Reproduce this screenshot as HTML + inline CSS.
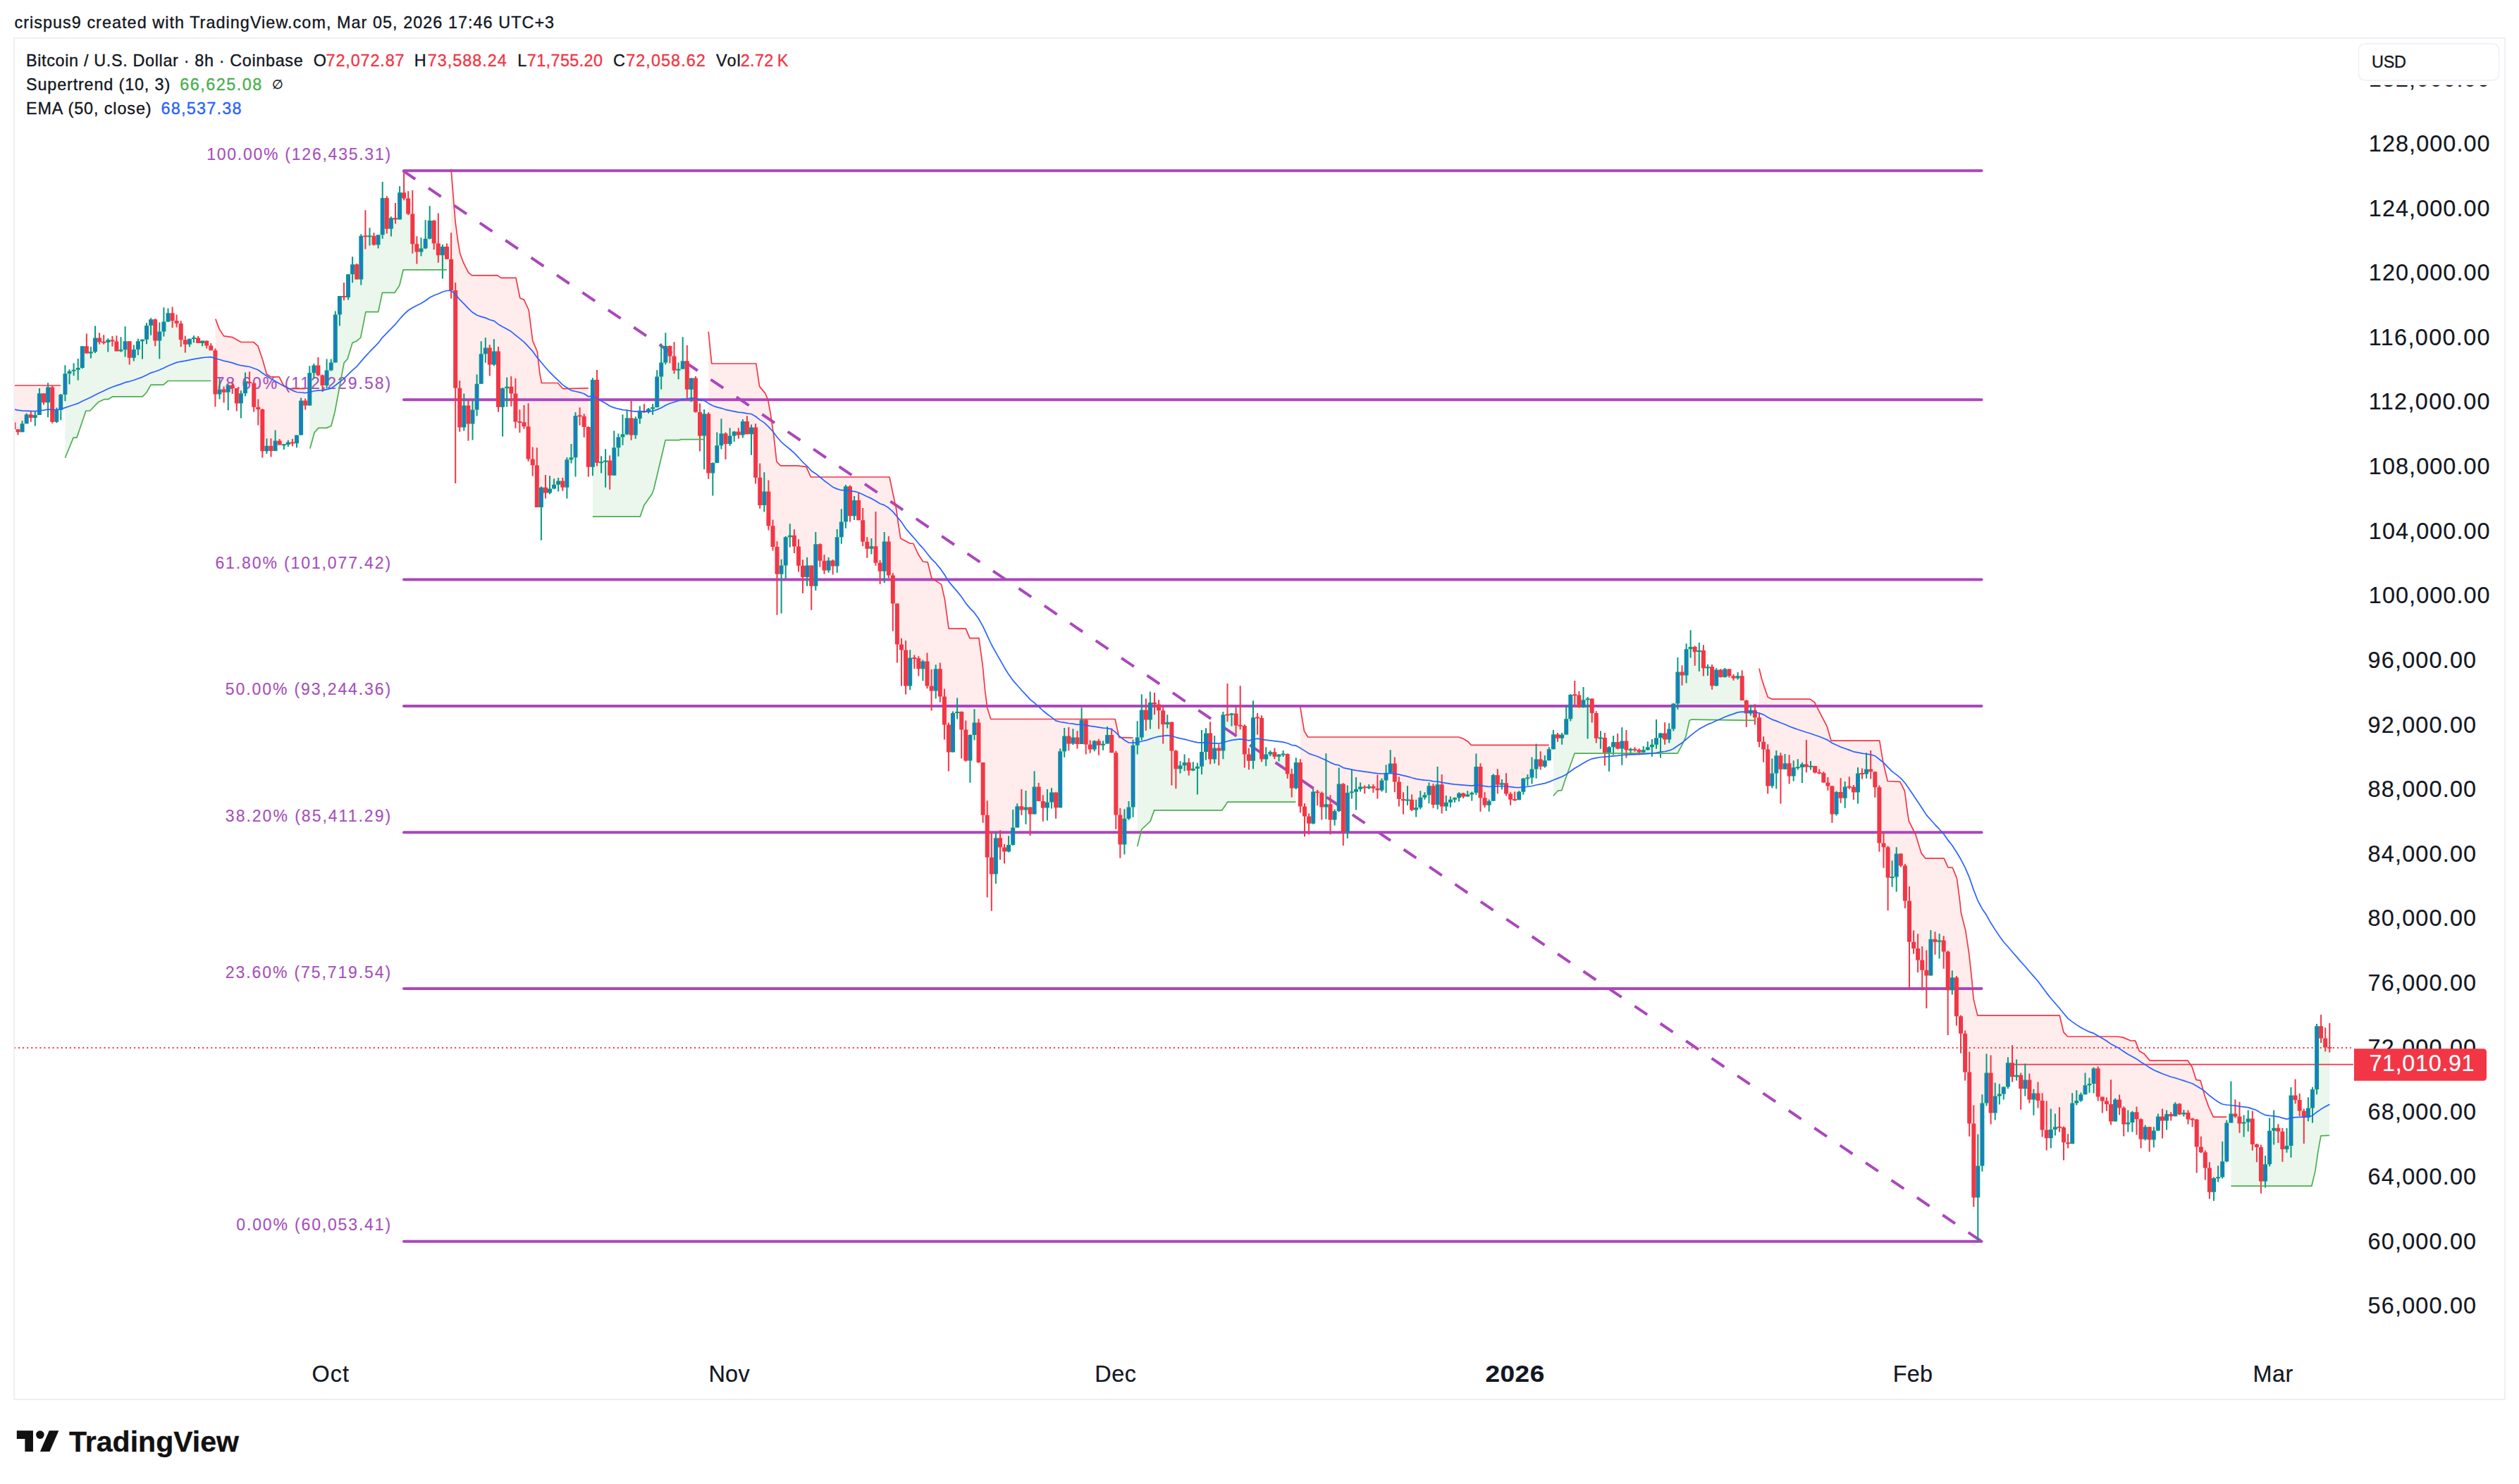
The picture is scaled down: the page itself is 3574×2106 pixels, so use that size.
<!DOCTYPE html>
<html><head><meta charset="utf-8"><title>BTCUSD chart</title>
<style>
html,body{margin:0;padding:0;background:#fff;}
body{width:3574px;height:2106px;position:relative;overflow:hidden;font-family:"Liberation Sans",sans-serif;}
svg text{font-family:"Liberation Sans",sans-serif;fill:#131722;stroke:#131722;stroke-width:0.35px;}
.lg{font-size:23.4px;}
.usd{font-size:23.4px;}
.es{font-size:17.5px;}
.fib{font-size:23px;fill:#A64FBA;stroke:#A64FBA;stroke-width:0.15px;}
.ax{font-size:32.4px;stroke-width:0.2px;}
.axb{font-size:32.4px;font-weight:bold;stroke-width:0.2px;}
.tv{font-size:41px;font-weight:bold;fill:#111;stroke:#111;}
</style></head><body>
<svg width="3574" height="2106" viewBox="0 0 3574 2106" style="position:absolute;left:0;top:0">
<defs><clipPath id="cp"><rect x="21" y="55" width="3318" height="1880"/></clipPath></defs>
<g clip-path="url(#cp)">
<polygon points="19.4,547.0 20.0,547.0 86.3,547.0 86.3,574.3 80.3,589.8 74.2,574.0 68.1,564.0 62.0,565.6 55.9,571.8 49.8,592.7 43.8,590.8 37.7,594.3 31.6,606.2 25.5,612.3 19.4,604.4" fill="rgba(255,82,82,0.11)"/>
<polygon points="305.4,453.2 306.0,453.2 311.1,466.9 317.6,476.9 329.7,478.6 341.9,485.5 359.7,485.5 366.1,491.2 372.6,510.6 378.3,530.8 383.9,534.8 396.1,534.8 402.5,547.0 404.9,548.4 408.2,550.2 409.7,551.6 414.7,551.3 433.2,551.6 433.2,572.8 427.1,592.1 421.0,624.9 414.9,628.2 408.8,629.2 402.8,632.7 396.7,627.9 390.6,629.1 384.5,635.8 378.4,634.8 372.3,612.7 366.3,582.2 360.2,562.2 354.1,539.3 348.0,547.8 341.9,569.6 335.8,564.4 329.7,549.7 323.7,557.8 317.6,557.4 311.5,553.8 305.4,532.1" fill="rgba(255,82,82,0.11)"/>
<polygon points="640.1,240.1 642.6,272.1 646.0,314.2 649.3,339.5 652.7,359.7 657.7,373.2 664.5,386.7 669.5,390.9 700.0,390.9 705.5,390.6 711.0,394.4 732.0,394.4 737.8,423.0 743.5,425.4 750.2,440.0 755.8,483.7 762.3,499.0 765.9,530.6 768.5,543.5 791.4,543.5 797.8,550.8 800.0,551.6 834.2,550.8 834.8,550.8 834.8,637.6 828.7,601.2 822.6,590.7 816.5,625.2 810.5,647.3 804.4,675.1 798.3,687.3 792.2,686.4 786.1,688.7 780.0,692.4 774.0,693.2 767.9,717.2 761.8,683.9 755.7,655.5 749.6,621.0 743.5,597.1 737.4,598.2 731.4,575.5 725.3,554.5 719.2,553.2 713.1,574.6 707.0,538.3 700.9,504.3 694.8,508.5 688.8,497.4 682.7,519.0 676.6,562.0 670.5,594.0 664.4,592.4 658.3,588.0 652.2,577.6 646.2,512.4 640.1,383.4" fill="rgba(255,82,82,0.11)"/>
<polygon points="1005.2,470.7 1009.7,516.0 1072.8,516.0 1077.6,548.4 1085.7,558.1 1089.7,567.8 1093.0,585.6 1097.8,617.9 1101.9,655.1 1107.5,660.8 1131.0,660.8 1143.9,662.4 1150.4,677.0 1180.0,677.0 1262.0,677.0 1266.8,700.0 1271.7,722.6 1274.1,740.4 1277.7,763.9 1290.3,770.8 1295.9,771.5 1303.2,787.3 1309.7,797.0 1316.2,797.9 1321.8,820.5 1335.6,829.4 1340.4,850.4 1346.1,892.2 1370.3,892.2 1375.9,905.7 1376.0,905.4 1388.5,905.7 1388.9,905.4 1393.7,940.4 1393.8,940.0 1397.7,980.9 1400.9,1005.1 1405.8,1020.5 1582.1,1020.5 1587.8,1046.4 1607.6,1047.2 1607.6,1103.1 1601.5,1152.0 1595.4,1180.3 1589.3,1180.0 1583.3,1116.8 1577.2,1053.3 1571.1,1046.3 1565.0,1057.3 1558.9,1057.5 1552.8,1057.9 1546.7,1059.8 1540.7,1042.6 1534.6,1034.5 1528.5,1050.5 1522.4,1048.3 1516.3,1049.4 1510.2,1054.6 1504.2,1105.3 1498.1,1139.2 1492.0,1132.2 1485.9,1142.5 1479.8,1144.4 1473.7,1125.4 1467.6,1130.4 1461.6,1158.1 1455.5,1146.7 1449.4,1142.7 1443.3,1158.4 1437.2,1180.6 1431.1,1200.8 1425.0,1208.7 1419.0,1197.4 1412.9,1216.2 1406.8,1232.8 1400.7,1195.9 1394.6,1122.1 1388.5,1052.6 1382.5,1031.3 1376.4,1068.9 1370.3,1054.5 1364.2,1032.9 1358.1,1008.3 1352.0,1039.1 1345.9,1054.0 1339.9,1011.1 1333.8,968.7 1327.7,966.1 1321.6,978.1 1315.5,953.9 1309.4,947.6 1303.3,943.6 1297.3,936.7 1291.2,952.2 1285.1,947.6 1279.0,929.1 1272.9,892.0 1266.8,845.5 1260.8,791.6 1254.7,790.3 1248.6,808.4 1242.5,775.6 1236.4,776.1 1230.3,775.3 1224.2,750.7 1218.2,721.7 1212.1,721.1 1206.0,712.9 1199.9,717.1 1193.8,749.1 1187.7,782.4 1181.6,802.2 1175.6,802.2 1169.5,801.9 1163.4,786.0 1157.3,799.3 1151.2,825.6 1145.1,811.0 1139.0,814.4 1133.0,788.8 1126.9,767.9 1120.8,760.5 1114.7,786.8 1108.6,820.4 1102.5,807.9 1096.5,760.3 1090.4,719.5 1084.3,702.8 1078.2,693.4 1072.1,643.1 1066.0,617.7 1059.9,605.2 1053.9,608.0 1047.8,615.0 1041.7,617.4 1035.6,622.1 1029.5,627.6 1023.4,619.9 1017.3,639.9 1011.3,672.1 1005.2,630.9" fill="rgba(255,82,82,0.11)"/>
<polygon points="1844.9,1003.7 1850.5,1037.6 1855.7,1046.0 2020.0,1046.0 2069.6,1046.0 2076.0,1048.2 2082.5,1052.2 2087.3,1057.4 2197.8,1057.4 2197.8,1070.5 2191.8,1082.1 2185.7,1081.1 2179.6,1082.3 2173.5,1095.5 2167.4,1105.8 2161.3,1115.0 2155.2,1129.1 2149.2,1132.5 2143.1,1132.1 2137.0,1116.1 2130.9,1112.9 2124.8,1107.9 2118.7,1117.9 2112.7,1141.4 2106.6,1136.3 2100.5,1113.8 2094.4,1102.7 2088.3,1128.1 2082.2,1127.7 2076.1,1128.6 2070.1,1130.0 2064.0,1134.3 2057.9,1137.3 2051.8,1140.8 2045.7,1127.9 2039.6,1123.0 2033.5,1129.0 2027.5,1123.6 2021.4,1129.7 2015.3,1137.1 2009.2,1147.4 2003.1,1140.6 1997.0,1132.3 1991.0,1137.4 1984.9,1122.6 1978.8,1097.9 1972.7,1085.5 1966.6,1103.7 1960.5,1114.2 1954.4,1118.3 1948.4,1118.2 1942.3,1116.9 1936.2,1119.0 1930.1,1117.6 1924.0,1124.1 1917.9,1118.5 1911.8,1152.6 1905.8,1151.2 1899.7,1126.3 1893.6,1158.5 1887.5,1154.3 1881.4,1129.6 1875.3,1139.4 1869.2,1128.2 1863.2,1145.3 1857.1,1166.5 1851.0,1157.6 1844.9,1114.3" fill="rgba(255,82,82,0.11)"/>
<polygon points="2496.0,948.7 2499.3,962.5 2503.4,975.4 2508.2,989.2 2513.9,992.1 2568.1,992.1 2574.5,996.5 2581.0,1009.4 2592.3,1031.2 2598.0,1051.1 2666.7,1051.1 2671.6,1080.6 2678.1,1108.5 2695.8,1109.4 2702.4,1122.5 2706.4,1153.2 2708.4,1165.4 2717.8,1184.0 2725.9,1210.6 2732.0,1218.2 2758.2,1218.2 2763.9,1230.9 2770.3,1231.3 2776.0,1245.4 2776.7,1248.1 2780.8,1280.0 2782.3,1295.0 2788.8,1320.9 2793.7,1353.2 2797.7,1390.4 2800.1,1417.9 2805.8,1441.1 2922.2,1441.1 2927.9,1464.8 2933.6,1471.0 3003.9,1471.0 3012.0,1472.1 3023.3,1477.0 3029.1,1476.8 3029.8,1477.4 3035.2,1491.5 3042.2,1495.6 3050.3,1505.1 3103.9,1505.1 3110.0,1513.8 3116.0,1532.4 3122.1,1533.4 3128.2,1555.2 3133.2,1569.4 3140.3,1585.1 3158.5,1585.1 3159.3,1585.1 3159.3,1620.2 3153.2,1652.8 3147.1,1668.6 3141.0,1684.6 3134.9,1675.0 3128.8,1649.9 3122.8,1628.0 3116.7,1617.2 3110.6,1590.7 3104.5,1584.7 3098.4,1580.0 3092.3,1574.0 3086.2,1574.9 3080.2,1583.5 3074.1,1587.6 3068.0,1591.0 3061.9,1593.6 3055.8,1612.4 3049.7,1612.7 3043.7,1607.8 3037.6,1605.5 3031.5,1586.9 3025.4,1588.6 3019.3,1592.6 3013.2,1587.7 3007.1,1567.2 3001.1,1575.5 2995.0,1571.8 2988.9,1566.0 2982.8,1563.7 2976.7,1537.2 2970.6,1530.1 2964.5,1539.6 2958.5,1542.3 2952.4,1557.4 2946.3,1560.8 2940.2,1590.8 2934.1,1620.8 2928.0,1616.6 2922.0,1594.3 2915.9,1598.6 2909.8,1605.3 2903.7,1603.4 2897.6,1582.6 2891.5,1555.4 2885.4,1560.1 2879.4,1545.5 2873.3,1535.7 2867.2,1542.0 2861.1,1522.7 2855.0,1513.8 2848.9,1524.0 2842.8,1549.3 2836.8,1553.5 2830.7,1565.3 2824.6,1548.7 2818.5,1538.2 2812.4,1608.9 2806.3,1681.3 2800.3,1643.8 2794.2,1555.3 2788.1,1496.0 2782.0,1461.1 2775.9,1417.5 2769.8,1395.3 2763.7,1393.5 2757.7,1347.0 2751.6,1339.2 2745.5,1336.6 2739.4,1355.4 2733.3,1385.1 2727.2,1371.9 2721.1,1353.4 2715.1,1339.2 2709.0,1319.2 2702.9,1255.5 2696.8,1220.4 2690.7,1231.0 2684.6,1242.5 2678.6,1235.1 2672.5,1202.8 2666.4,1159.2 2660.3,1109.8 2654.2,1089.3 2648.1,1090.7 2642.0,1098.0 2636.0,1112.9 2629.9,1122.6 2623.8,1113.9 2617.7,1126.3 2611.6,1125.2 2605.5,1140.0 2599.4,1138.5 2593.4,1112.7 2587.3,1103.2 2581.2,1095.9 2575.1,1092.0 2569.0,1087.0 2562.9,1079.8 2556.9,1091.7 2550.8,1087.0 2544.7,1094.6 2538.6,1092.1 2532.5,1084.2 2526.4,1093.3 2520.3,1088.6 2514.3,1101.9 2508.2,1090.5 2502.1,1060.8 2496.0,1035.8" fill="rgba(255,82,82,0.11)"/>
<polygon points="92.4,649.7 104.1,621.1 109.0,621.1 121.9,583.0 127.6,583.0 139.7,570.4 147.8,566.7 153.4,566.7 159.9,562.8 202.0,562.8 207.6,557.5 214.1,546.2 231.9,546.2 238.4,540.5 299.3,540.5 299.3,493.0 293.2,487.9 287.1,486.3 281.1,482.7 275.0,480.7 268.9,485.6 262.8,487.0 256.7,472.2 250.6,456.3 244.6,450.0 238.5,448.8 232.4,460.1 226.3,480.2 220.2,470.1 214.1,460.6 208.0,472.6 202.0,489.2 195.9,491.2 189.8,501.5 183.7,498.4 177.6,487.6 171.5,493.2 165.4,489.4 159.4,483.8 153.3,487.0 147.2,483.9 141.1,481.5 135.0,485.5 128.9,500.4 122.9,491.8 116.8,506.9 110.7,523.8 104.6,525.1 98.5,531.7 92.4,544.5" fill="rgba(76,175,80,0.11)"/>
<polygon points="439.3,636.0 440.0,636.0 446.1,613.9 451.8,607.4 463.1,607.4 469.9,604.5 475.2,584.0 488.2,514.7 493.0,509.6 500.0,486.6 505.9,484.0 511.6,479.3 518.9,442.7 536.7,442.7 542.4,415.3 560.0,415.3 566.8,405.2 572.2,382.8 634.0,382.8 634.0,357.9 627.9,363.8 621.8,345.7 615.7,331.2 609.7,320.9 603.6,339.2 597.5,352.8 591.4,353.4 585.3,319.9 579.2,290.4 573.1,271.0 567.1,290.1 561.0,306.6 554.9,319.2 548.8,303.9 542.7,302.8 536.6,341.7 530.5,340.3 524.5,335.5 518.4,330.6 512.3,367.0 506.2,385.5 500.1,382.5 494.0,406.5 488.0,417.3 481.9,437.3 475.8,479.2 469.7,519.0 463.6,533.4 457.5,541.8 451.4,523.0 445.4,525.2 439.3,549.9" fill="rgba(76,175,80,0.11)"/>
<polygon points="840.9,733.1 908.2,733.1 913.9,716.9 925.2,700.7 927.6,694.2 944.1,624.7 963.2,624.7 966.4,623.6 997.2,623.6 999.1,623.6 999.1,613.2 993.0,604.1 986.9,560.3 980.8,549.0 974.8,530.7 968.7,509.6 962.6,525.6 956.5,511.8 950.4,500.6 944.3,498.8 938.2,522.2 932.2,554.1 926.1,580.1 920.0,582.8 913.9,581.9 907.8,588.8 901.7,606.3 895.6,601.0 889.6,602.2 883.5,614.1 877.4,629.6 871.3,649.0 865.2,667.3 859.1,659.6 853.1,657.9 847.0,595.6 840.9,603.3" fill="rgba(76,175,80,0.11)"/>
<polygon points="1613.7,1201.3 1619.8,1177.0 1632.0,1165.7 1632.1,1165.4 1637.8,1149.6 1637.9,1149.9 1733.9,1149.9 1734.0,1149.6 1740.0,1140.7 1741.3,1138.2 1838.4,1138.2 1838.8,1099.0 1832.7,1109.7 1826.7,1085.6 1820.6,1070.0 1814.5,1073.7 1808.4,1069.9 1802.3,1069.0 1796.2,1073.9 1790.1,1048.3 1784.1,1023.0 1778.0,1045.9 1771.9,1076.0 1765.8,1054.4 1759.7,1017.0 1753.6,1021.5 1747.5,1017.3 1741.5,1005.8 1735.4,1041.8 1729.3,1067.4 1723.2,1066.7 1717.1,1056.7 1711.0,1054.8 1705.0,1072.5 1698.9,1097.1 1692.8,1089.9 1686.7,1088.0 1680.6,1083.3 1674.5,1088.8 1668.4,1085.2 1662.4,1057.3 1656.3,1025.1 1650.2,1023.6 1644.1,1008.8 1638.0,998.5 1631.9,1008.7 1625.9,1014.3 1619.8,1022.4 1613.7,1049.5" fill="rgba(76,175,80,0.11)"/>
<polygon points="2203.9,1129.5 2210.3,1122.2 2215.9,1121.7 2220.0,1108.8 2234.0,1069.2 2379.6,1069.2 2380.1,1069.2 2386.1,1057.9 2386.6,1057.0 2391.8,1045.8 2392.2,1044.1 2397.1,1022.3 2397.4,1022.3 2400.0,1021.1 2489.6,1022.3 2489.9,1013.4 2483.8,1009.1 2477.8,1007.9 2471.7,974.6 2465.6,960.1 2459.5,961.1 2453.4,954.8 2447.3,954.9 2441.2,955.5 2435.2,961.4 2429.1,960.3 2423.0,949.1 2416.9,936.5 2410.8,928.2 2404.7,926.1 2398.6,916.7 2392.6,940.6 2386.5,957.2 2380.4,973.0 2374.3,1017.1 2368.2,1041.2 2362.1,1042.9 2356.0,1050.9 2350.0,1047.0 2343.9,1059.9 2337.8,1060.5 2331.7,1064.8 2325.6,1066.3 2319.5,1063.6 2313.5,1064.9 2307.4,1056.8 2301.3,1058.0 2295.2,1054.9 2289.1,1057.3 2283.0,1070.5 2276.9,1060.4 2270.9,1048.7 2264.8,1031.0 2258.7,1005.0 2252.6,1005.6 2246.5,994.1 2240.4,993.9 2234.3,984.7 2228.3,1003.7 2222.2,1026.4 2216.1,1046.8 2210.0,1045.7 2203.9,1051.2" fill="rgba(76,175,80,0.11)"/>
<polygon points="3165.4,1683.2 3279.8,1683.2 3284.8,1662.4 3288.9,1634.1 3292.9,1611.8 3305.0,1611.4 3305.3,1480.0 3299.2,1477.6 3293.1,1462.4 3287.1,1502.2 3281.0,1563.7 3274.9,1576.7 3268.8,1589.7 3262.7,1568.3 3256.6,1553.4 3250.5,1591.6 3244.5,1623.5 3238.4,1621.6 3232.3,1605.9 3226.2,1601.3 3220.1,1624.7 3214.0,1663.6 3207.9,1655.6 3201.9,1631.0 3195.8,1605.2 3189.7,1590.4 3183.6,1595.8 3177.5,1587.7 3171.4,1578.0 3165.4,1575.5" fill="rgba(76,175,80,0.11)"/>
<line x1="573" x2="2811.5" y1="242.2" y2="242.2" stroke="#AB47BC" stroke-width="4" stroke-linecap="round"/>
<line x1="573" x2="2811.5" y1="567.3" y2="567.3" stroke="#AB47BC" stroke-width="4" stroke-linecap="round"/>
<line x1="573" x2="2811.5" y1="822.6" y2="822.6" stroke="#AB47BC" stroke-width="4" stroke-linecap="round"/>
<line x1="573" x2="2811.5" y1="1001.9" y2="1001.9" stroke="#AB47BC" stroke-width="4" stroke-linecap="round"/>
<line x1="573" x2="2811.5" y1="1181.2" y2="1181.2" stroke="#AB47BC" stroke-width="4" stroke-linecap="round"/>
<line x1="573" x2="2811.5" y1="1403.1" y2="1403.1" stroke="#AB47BC" stroke-width="4" stroke-linecap="round"/>
<line x1="573" x2="2811.5" y1="1761.7" y2="1761.7" stroke="#AB47BC" stroke-width="4" stroke-linecap="round"/>
<line x1="571.5" y1="242.2" x2="2811.5" y2="1761.7" stroke="#AB47BC" stroke-width="4" stroke-dasharray="21.5,22.5"/>
<line x1="20" x2="3336" y1="1487" y2="1487" stroke="#F23645" stroke-width="2" stroke-dasharray="2,4.07"/>
<line x1="2855" x2="3339" y1="1510.7" y2="1510.7" stroke="#F23645" stroke-width="1.8"/>
<text id="f0" x="555.9" y="226.6" text-anchor="end" class="fib" style="letter-spacing:1.757px;">100.00% (126,435.31)</text>
<text id="f1" x="556.1" y="551.7" text-anchor="end" class="fib" style="letter-spacing:1.975px;">78.60% (112,229.58)</text>
<text id="f2" x="556.0" y="807.0" text-anchor="end" class="fib" style="letter-spacing:1.880px;">61.80% (101,077.42)</text>
<text id="f3" x="556.0" y="986.3" text-anchor="end" class="fib" style="letter-spacing:1.894px;">50.00% (93,244.36)</text>
<text id="f4" x="556.1" y="1165.6" text-anchor="end" class="fib" style="letter-spacing:1.994px;">38.20% (85,411.29)</text>
<text id="f5" x="556.0" y="1387.5" text-anchor="end" class="fib" style="letter-spacing:1.894px;">23.60% (75,719.54)</text>
<text id="f6" x="555.9" y="1746.1" text-anchor="end" class="fib" style="letter-spacing:1.841px;">0.00% (60,053.41)</text>
<path d="M31.6 597.1V613.3M37.7 586.6V601.2M49.8 584.2V604.4M55.9 551.0V589.0M68.1 543.3V592.3M80.3 578.5V600.3M86.3 559.1V596.3M92.4 518.2V569.6M98.5 524.3V545.4M104.6 515.4V533.2M110.7 509.0V539.7M116.8 491.2V523.2M128.9 492.3V508.6M135.0 462.4V500.9M153.3 480.2V499.6M171.5 478.2V499.6M177.6 463.2V506.5M189.8 489.6V512.5M195.9 480.7V504.1M202.0 481.5V509.4M208.0 458.3V488.3M214.1 451.2V475.8M226.3 457.5V509.3M232.4 436.2V477.4M238.5 437.5V456.9M268.9 480.7V492.3M275.0 476.3V486.3M287.1 483.4V491.2M311.5 536.8V566.4M323.7 545.8V582.2M341.9 554.2V593.4M348.0 528.4V562.3M378.4 622.2V644.0M390.6 610.5V640.3M402.8 630.1V638.1M408.8 624.4V634.1M421.0 617.6V635.2M427.1 564.5V617.6M439.3 519.3V575.5M445.4 516.0V537.0M463.6 509.6V551.6M469.7 509.6V526.5M475.8 441.4V514.4M481.9 420.0V462.5M494.0 389.2V425.4M500.1 364.3V401.3M512.3 332.3V404.4M524.5 323.2V348.4M536.6 333.3V352.6M542.7 258.1V338.7M554.9 307.2V335.6M567.1 264.2V311.4M597.5 337.3V363.6M603.6 312.2V353.5M609.7 292.3V339.5M627.9 347.1V395.6M658.3 558.4V611.5M670.5 568.6V624.4M676.6 531.4V590.4M682.7 484.2V544.8M688.8 479.3V514.7M700.9 481.2V519.6M713.1 550.0V619.5M719.2 535.4V577.5M767.9 690.2V766.7M780.0 675.2V701.5M786.1 679.2V694.2M792.2 678.1V697.5M804.4 649.0V707.5M810.5 630.0V657.5M816.5 585.1V676.5M840.9 536.2V675.3M853.1 647.3V671.6M859.1 637.3V691.8M871.3 611.3V674.8M877.4 615.3V647.8M883.5 588.3V631.7M889.6 581.8V617.4M901.7 591.2V622.8M907.8 576.2V601.6M920.0 579.1V586.7M926.1 573.3V588.8M932.2 525.2V578.3M938.2 487.4V552.4M944.3 472.3V517.3M962.6 514.4V538.3M968.7 478.3V523.8M980.8 536.6V570.2M999.1 581.0V665.9M1011.3 656.2V703.6M1017.3 613.4V657.0M1023.4 594.3V637.6M1035.6 607.2V632.8M1041.7 611.8V626.8M1053.9 595.1V621.5M1066.0 602.4V645.7M1084.3 670.3V726.6M1108.6 793.8V870.6M1114.7 761.1V821.3M1120.8 743.2V776.8M1145.1 791.1V831.8M1157.3 755.0V838.0M1175.6 791.1V812.7M1187.7 751.0V812.7M1193.8 722.2V771.7M1199.9 687.9V749.7M1212.1 704.0V738.0M1236.4 763.9V786.5M1254.7 755.0V827.0M1291.2 922.2V979.3M1309.4 936.4V966.3M1327.7 943.3V991.4M1352.0 1009.5V1067.4M1358.1 990.6V1020.5M1376.4 1042.3V1110.8M1382.5 1006.3V1050.4M1412.9 1181.1V1253.9M1431.1 1186.3V1209.4M1437.2 1149.1V1199.7M1443.3 1140.2V1174.6M1455.5 1122.1V1169.8M1467.6 1094.2V1155.5M1485.9 1120.1V1164.6M1492.0 1118.3V1147.6M1504.2 1062.2V1146.3M1510.2 1033.1V1074.7M1522.4 1034.2V1056.9M1534.6 1004.3V1056.1M1552.8 1050.4V1066.3M1565.0 1051.2V1064.7M1571.1 1031.0V1055.6M1595.4 1148.3V1212.6M1601.5 1136.9V1163.8M1607.6 1049.6V1159.7M1613.7 1023.3V1070.6M1619.8 985.2V1050.4M1631.9 981.4V1034.6M1656.3 1014.2V1033.6M1674.5 1080.0V1097.5M1680.6 1070.5V1094.2M1692.8 1081.3V1094.2M1698.9 1082.4V1127.4M1705.0 1036.0V1099.1M1711.0 1033.3V1078.6M1723.2 1044.1V1083.4M1735.4 1010.1V1077.3M1747.5 1011.8V1030.4M1778.0 994.3V1091.3M1796.2 1060.3V1087.3M1802.3 1065.1V1073.2M1814.5 1070.0V1080.5M1820.6 1065.1V1074.0M1838.8 1075.2V1120.1M1863.2 1119.3V1169.8M1881.4 1069.2V1162.5M1893.6 1148.4V1171.4M1899.7 1089.4V1152.5M1911.8 1114.5V1189.7M1917.9 1091.8V1133.6M1924.0 1103.1V1149.6M1930.1 1110.4V1123.4M1942.3 1112.9V1120.1M1960.5 1104.4V1123.4M1966.6 1085.4V1125.3M1972.7 1064.3V1097.5M1997.0 1115.3V1142.8M2009.2 1134.7V1159.4M2015.3 1122.2V1148.4M2021.4 1124.2V1134.7M2027.5 1110.4V1140.3M2039.6 1088.1V1148.4M2051.8 1129.0V1150.9M2057.9 1130.2V1145.7M2064.0 1131.5V1138.7M2070.1 1124.2V1137.6M2082.2 1122.2V1130.6M2088.3 1123.4V1136.6M2094.4 1069.5V1128.2M2112.7 1134.4V1151.7M2118.7 1098.3V1136.8M2130.9 1106.1V1120.6M2155.2 1122.2V1135.2M2161.3 1104.0V1127.7M2167.4 1099.1V1115.6M2173.5 1074.4V1112.5M2179.6 1055.4V1104.8M2191.8 1072.1V1089.4M2197.8 1060.3V1079.2M2203.9 1036.0V1063.5M2216.1 1040.1V1056.7M2222.2 1000.4V1042.5M2228.3 985.1V1023.6M2246.5 975.0V1004.5M2252.6 989.1V1048.6M2270.9 1037.3V1062.7M2283.0 1059.0V1094.7M2289.1 1044.1V1071.6M2301.3 1032.3V1085.8M2313.5 1061.1V1070.8M2331.7 1059.0V1068.4M2337.8 1052.2V1065.1M2343.9 1049.0V1073.7M2350.0 1021.1V1062.7M2356.0 1040.1V1075.6M2368.2 1026.3V1054.6M2374.3 998.0V1037.6M2380.4 933.1V1007.0M2392.6 913.2V969.4M2398.6 894.2V933.4M2410.8 912.0V952.8M2423.0 942.8V958.9M2435.2 948.3V973.8M2447.3 947.9V961.4M2465.6 953.9V964.6M2483.8 1000.5V1015.5M2514.3 1076.4V1118.4M2520.3 1065.1V1119.6M2532.5 1069.9V1091.8M2544.7 1079.3V1108.4M2550.8 1077.2V1092.6M2556.9 1082.1V1111.2M2569.0 1080.1V1092.6M2605.5 1122.5V1157.6M2617.7 1109.1V1146.8M2636.0 1089.0V1140.6M2648.1 1068.3V1104.7M2684.6 1221.2V1258.7M2690.7 1202.2V1265.6M2739.4 1320.1V1384.4M2751.6 1324.9V1360.5M2769.8 1377.2V1411.5M2806.3 1609.5V1761.7M2812.4 1553.2V1662.4M2818.5 1495.5V1569.4M2830.7 1536.6V1589.6M2836.8 1538.3V1567.5M2842.8 1541.9V1560.5M2848.9 1500.3V1545.1M2861.1 1503.6V1533.5M2873.3 1509.6V1555.6M2885.4 1545.5V1582.8M2909.8 1573.4V1629.6M2915.9 1580.4V1611.5M2940.2 1551.3V1623.3M2946.3 1547.2V1568.6M2952.4 1550.5V1563.7M2958.5 1522.5V1553.2M2964.5 1529.4V1550.8M2970.6 1514.4V1551.6M3001.1 1558.6V1591.6M3019.3 1575.5V1606.6M3025.4 1576.7V1606.6M3043.7 1596.6V1618.4M3055.8 1599.3V1628.4M3061.9 1580.4V1605.0M3074.1 1575.5V1603.4M3086.2 1564.2V1584.3M3098.4 1575.1V1584.4M3141.0 1670.5V1704.2M3147.1 1654.3V1677.5M3153.2 1619.9V1672.5M3159.3 1589.6V1649.2M3165.4 1534.4V1593.6M3183.6 1582.5V1613.4M3189.7 1575.4V1605.8M3214.0 1640.1V1685.6M3220.1 1586.6V1655.3M3226.2 1575.4V1624.4M3244.5 1601.1V1635.7M3250.5 1543.1V1642.8M3274.9 1557.2V1591.2M3281.0 1542.7V1593.6M3287.1 1453.1V1553.2" stroke="#089981" stroke-width="2" fill="none"/>
<path d="M19.4 599.5V609.2M25.5 609.2V617.3M43.8 583.4V598.7M62.0 558.3V574.5M74.2 547.0V600.8M122.9 473.4V501.4M141.1 472.2V488.7M147.2 475.3V488.7M159.4 476.9V491.7M165.4 476.3V498.4M183.7 484.2V517.5M220.2 452.3V491.2M244.6 435.4V465.3M250.6 446.4V464.5M256.7 455.3V492.3M262.8 476.6V500.4M281.1 477.1V487.1M293.2 483.4V494.4M299.3 487.1V497.3M305.4 494.4V577.2M317.6 548.6V571.6M329.7 542.1V559.1M335.8 551.0V583.4M354.1 527.6V543.7M360.2 542.9V584.5M366.3 566.4V603.6M372.3 580.1V649.4M384.5 622.2V648.4M396.7 623.0V631.6M414.9 622.8V633.3M433.2 565.4V581.5M451.4 507.1V533.8M457.5 531.4V556.1M488.0 401.0V426.3M506.2 374.0V396.4M518.4 298.2V353.5M530.5 330.2V348.4M548.8 278.3V331.6M561.0 288.1V317.6M573.1 245.2V284.2M579.2 271.3V305.3M585.3 270.1V359.7M591.4 335.3V374.5M615.7 312.2V354.3M621.8 302.4V372.7M634.0 345.4V368.1M640.1 330.2V423.7M646.2 401.0V686.0M652.2 540.3V612.7M664.4 567.0V625.5M694.8 489.3V533.5M707.0 492.1V584.8M725.3 534.1V576.7M731.4 537.0V607.7M737.4 581.2V613.9M743.5 575.1V608.7M749.6 572.3V654.8M755.7 634.6V675.7M761.8 635.2V720.1M774.0 674.0V707.5M798.3 678.1V696.7M822.6 578.3V603.7M828.7 587.2V620.7M834.8 605.3V676.5M847.0 524.9V661.6M865.2 646.2V694.7M895.6 568.9V624.7M913.9 573.3V585.9M950.4 490.5V515.5M956.5 485.3V530.6M974.8 490.1V567.8M986.9 534.1V585.6M993.0 572.6V640.5M1005.2 585.1V679.7M1029.5 613.4V651.9M1047.8 607.2V622.8M1059.9 590.2V616.3M1072.1 601.2V686.6M1078.2 657.4V721.7M1090.4 681.6V752.5M1096.5 737.4V781.6M1102.5 768.3V872.7M1126.9 751.3V784.9M1133.0 765.2V811.6M1139.0 794.3V841.9M1151.2 802.4V865.8M1163.4 771.2V804.8M1169.5 787.3V814.8M1181.6 794.1V815.6M1206.0 688.7V740.4M1218.2 700.0V738.3M1224.2 721.0V774.9M1230.3 761.9V791.7M1242.5 725.9V802.7M1248.6 795.1V828.9M1260.8 761.0V820.5M1266.8 813.2V895.7M1272.9 856.6V940.4M1279.0 905.7V973.6M1285.1 908.9V985.4M1297.3 929.6V949.3M1303.3 931.2V959.5M1315.5 926.4V977.3M1321.6 950.1V1008.4M1333.8 940.4V996.6M1339.9 977.6V1049.6M1345.9 1025.4V1094.6M1364.2 1009.5V1076.6M1370.3 1022.4V1080.7M1388.5 1020.2V1082.8M1394.6 1081.9V1167.8M1400.7 1136.3V1273.6M1406.8 1181.1V1292.7M1419.0 1178.2V1219.9M1425.0 1198.1V1225.6M1449.4 1120.1V1156.8M1461.6 1145.5V1185.9M1473.7 1111.1V1137.1M1479.8 1128.2V1165.7M1498.1 1124.5V1161.7M1516.3 1032.1V1065.3M1528.5 1037.2V1062.6M1540.7 1021.6V1070.6M1546.7 1050.4V1068.7M1558.9 1048.8V1071.8M1577.2 1033.4V1068.2M1583.3 1065.8V1176.7M1589.3 1147.1V1217.8M1625.9 991.4V1036.7M1638.0 983.1V1014.2M1644.1 993.2V1034.4M1650.2 1002.9V1055.4M1662.4 1024.2V1114.5M1668.4 1064.3V1119.3M1686.7 1076.1V1100.4M1717.1 1024.2V1084.5M1729.3 1056.2V1086.2M1741.5 970.0V1024.2M1753.6 1002.4V1041.7M1759.7 973.3V1035.2M1765.8 1027.9V1089.4M1771.9 1061.4V1092.3M1784.1 1012.1V1042.5M1790.1 1015.3V1081.3M1808.4 1061.4V1077.3M1826.7 1069.2V1105.1M1832.7 1090.7V1131.5M1844.9 1077.3V1153.3M1851.0 1140.3V1187.3M1857.1 1154.6V1184.3M1869.2 1120.9V1143.3M1875.3 1123.4V1163.5M1887.5 1128.2V1184.3M1905.8 1111.2V1200.0M1936.2 1114.5V1126.6M1948.4 1112.9V1125.0M1954.4 1099.4V1133.6M1978.8 1074.4V1124.2M1984.9 1102.3V1144.4M1991.0 1124.2V1155.4M2003.1 1127.4V1150.9M2033.5 1112.0V1146.8M2045.7 1099.1V1154.6M2076.1 1125.0V1133.1M2100.5 1083.3V1151.7M2106.6 1124.2V1146.0M2124.8 1091.3V1126.6M2137.0 1097.2V1129.5M2143.1 1124.2V1142.8M2149.2 1123.4V1136.8M2185.7 1066.3V1092.6M2210.0 1040.1V1052.7M2234.3 966.1V1000.4M2240.4 981.0V1004.5M2258.7 991.1V1025.5M2264.8 1009.3V1054.6M2276.9 1040.1V1086.6M2295.2 1040.9V1063.5M2307.4 1036.0V1075.6M2319.5 1060.3V1066.8M2325.6 1062.2V1071.3M2362.1 1025.2V1056.7M2386.5 944.2V972.7M2404.7 916.4V944.7M2416.9 915.3V959.6M2429.1 943.1V978.7M2441.2 949.2V961.4M2453.4 949.2V961.4M2459.5 956.8V965.7M2471.7 951.2V994.0M2477.8 993.2V1031.7M2489.9 999.2V1028.5M2496.0 1011.8V1060.3M2502.1 1045.3V1081.7M2508.2 1056.2V1126.5M2526.4 1068.3V1140.6M2538.6 1071.2V1112.5M2562.9 1050.0V1096.3M2575.1 1086.9V1097.4M2581.2 1091.4V1098.6M2587.3 1095.0V1110.7M2593.4 1103.1V1121.7M2599.4 1115.2V1167.8M2611.6 1104.2V1139.8M2623.8 1102.3V1120.1M2629.9 1114.1V1134.9M2642.0 1090.5V1105.5M2654.2 1065.1V1105.5M2660.3 1094.7V1131.7M2666.4 1114.4V1208.7M2672.5 1180.7V1231.7M2678.6 1200.6V1292.3M2696.8 1211.1V1230.5M2702.9 1226.0V1289.1M2709.0 1258.1V1403.4M2715.1 1320.4V1353.7M2721.1 1325.2V1379.9M2727.2 1343.0V1405.3M2733.3 1348.4V1430.9M2745.5 1322.2V1354.8M2757.7 1328.2V1374.7M2763.7 1349.2V1468.9M2775.9 1385.1V1455.6M2782.0 1440.8V1494.7M2788.1 1462.6V1533.5M2794.2 1492.6V1612.7M2800.3 1568.6V1712.7M2824.6 1497.4V1595.6M2855.0 1483.3V1535.4M2867.2 1522.5V1574.7M2879.4 1523.6V1565.4M2891.5 1535.4V1572.6M2897.6 1551.3V1613.6M2903.7 1562.4V1632.5M2922.0 1571.3V1606.6M2928.0 1598.5V1646.6M2934.1 1609.3V1629.6M2976.7 1513.6V1562.4M2982.8 1556.5V1579.4M2988.9 1557.6V1576.7M2995.0 1532.2V1596.6M3007.1 1553.5V1582.3M3013.2 1570.2V1612.6M3031.5 1570.5V1610.6M3037.6 1587.2V1629.6M3049.7 1599.3V1634.6M3068.0 1573.4V1615.5M3080.2 1578.3V1590.4M3092.3 1565.4V1582.3M3104.5 1575.5V1595.6M3110.6 1586.4V1599.3M3116.7 1588.0V1664.5M3122.8 1612.7V1636.5M3128.8 1632.5V1674.5M3134.9 1649.2V1701.4M3171.4 1560.3V1586.6M3177.5 1563.7V1607.8M3195.8 1576.5V1632.7M3201.9 1623.0V1649.2M3207.9 1624.4V1693.7M3232.3 1595.3V1621.9M3238.4 1600.7V1648.8M3256.6 1531.6V1566.3M3262.7 1551.8V1583.9M3268.8 1573.4V1623.0M3293.1 1440.0V1480.0M3299.2 1458.2V1492.2M3305.3 1452.1V1493.6" stroke="#F23645" stroke-width="2" fill="none"/>
<path d="M28.6 601.2h6V613.3h-6zM34.7 588.2h6V601.2h-6zM46.8 589.0h6V593.1h-6zM52.9 558.3h6V589.0h-6zM65.1 549.4h6V571.2h-6zM77.3 581.7h6V598.7h-6zM83.3 559.9h6V581.7h-6zM89.4 530.3h6V559.9h-6zM95.5 526.8h6V530.3h-6zM101.6 524.8h6V526.8h-6zM107.7 521.9h6V524.8h-6zM113.8 491.2h6V521.9h-6zM125.9 499.3h6V501.4h-6zM132.0 479.4h6V499.3h-6zM150.3 482.3h6V486.0h-6zM168.5 496.3h6V498.4h-6zM174.6 484.2h6V496.3h-6zM186.8 496.0h6V507.8h-6zM192.9 484.2h6V496.0h-6zM199.0 481.8h6V484.2h-6zM205.0 462.1h6V481.8h-6zM211.1 453.2h6V462.1h-6zM223.3 470.5h6V483.6h-6zM229.4 456.4h6V470.5h-6zM235.5 444.3h6V456.4h-6zM265.9 480.7h6V488.7h-6zM272.0 479.0h6V481.0h-6zM284.1 483.4h6V487.1h-6zM308.5 552.6h6V559.4h-6zM320.7 546.5h6V556.7h-6zM338.9 558.3h6V572.4h-6zM345.0 542.1h6V558.3h-6zM375.4 632.7h6V640.3h-6zM387.6 625.4h6V640.0h-6zM399.8 630.2h6V632.2h-6zM405.8 627.6h6V630.9h-6zM418.0 617.6h6V629.2h-6zM424.1 568.6h6V617.6h-6zM436.3 529.3h6V575.5h-6zM442.4 518.4h6V529.3h-6zM460.6 525.4h6V547.1h-6zM466.7 514.4h6V525.4h-6zM472.8 446.5h6V514.4h-6zM478.9 420.0h6V446.5h-6zM491.0 389.2h6V422.0h-6zM497.1 375.2h6V389.2h-6zM509.3 334.8h6V396.4h-6zM521.5 334.3h6V336.3h-6zM533.6 333.3h6V347.6h-6zM539.7 281.0h6V333.3h-6zM551.9 309.2h6V324.7h-6zM564.1 273.3h6V311.4h-6zM594.5 352.6h6V357.5h-6zM600.6 338.7h6V352.6h-6zM606.7 313.1h6V338.7h-6zM624.9 350.1h6V362.2h-6zM655.3 575.5h6V606.6h-6zM667.5 581.5h6V601.4h-6zM673.6 544.8h6V581.5h-6zM679.7 502.3h6V544.8h-6zM685.8 493.4h6V502.3h-6zM697.9 498.6h6V517.6h-6zM710.1 551.1h6V577.8h-6zM716.2 548.7h6V551.1h-6zM764.9 691.8h6V720.1h-6zM777.0 693.4h6V699.4h-6zM783.1 687.8h6V693.4h-6zM789.2 682.4h6V687.8h-6zM801.4 652.2h6V691.8h-6zM807.5 649.3h6V652.2h-6zM813.5 589.9h6V649.3h-6zM837.9 539.0h6V662.7h-6zM850.1 655.2h6V657.2h-6zM856.1 653.5h6V655.8h-6zM868.3 635.2h6V674.8h-6zM874.4 620.2h6V635.2h-6zM880.5 616.3h6V620.2h-6zM886.6 593.2h6V616.3h-6zM898.7 594.0h6V617.4h-6zM904.8 583.5h6V594.0h-6zM917.0 580.2h6V585.1h-6zM923.1 578.1h6V580.2h-6zM929.2 534.6h6V578.1h-6zM935.2 514.4h6V534.6h-6zM941.3 491.0h6V514.4h-6zM959.6 523.8h6V525.8h-6zM965.7 512.3h6V523.8h-6zM977.8 536.6h6V552.7h-6zM996.1 587.2h6V618.6h-6zM1008.3 657.0h6V671.6h-6zM1014.3 632.3h6V657.0h-6zM1020.4 615.3h6V632.3h-6zM1032.6 618.6h6V629.9h-6zM1038.7 612.6h6V618.6h-6zM1050.9 598.0h6V617.4h-6zM1063.0 606.6h6V616.3h-6zM1081.3 697.5h6V716.9h-6zM1105.6 802.4h6V814.8h-6zM1111.7 762.3h6V802.4h-6zM1117.8 759.8h6V762.3h-6zM1142.1 802.4h6V818.9h-6zM1154.3 772.3h6V831.8h-6zM1172.6 795.4h6V809.5h-6zM1184.7 762.3h6V803.5h-6zM1190.8 740.4h6V762.3h-6zM1196.9 690.3h6V740.4h-6zM1209.1 710.0h6V732.3h-6zM1233.4 775.2h6V778.8h-6zM1251.7 768.4h6V810.8h-6zM1288.2 933.6h6V973.6h-6zM1306.4 938.5h6V949.3h-6zM1324.7 949.3h6V980.4h-6zM1349.0 1012.1h6V1067.4h-6zM1355.1 1010.0h6V1012.1h-6zM1373.4 1043.1h6V1079.5h-6zM1379.5 1025.4h6V1043.1h-6zM1409.9 1189.2h6V1240.6h-6zM1428.1 1198.9h6V1208.6h-6zM1434.2 1174.6h6V1198.9h-6zM1440.3 1144.2h6V1174.6h-6zM1452.5 1145.5h6V1149.6h-6zM1464.6 1116.4h6V1155.5h-6zM1482.9 1138.6h6V1146.6h-6zM1489.0 1124.5h6V1138.6h-6zM1501.2 1066.3h6V1146.3h-6zM1507.2 1044.4h6V1066.3h-6zM1519.4 1046.4h6V1055.6h-6zM1531.6 1021.6h6V1056.1h-6zM1549.8 1051.6h6V1063.4h-6zM1562.0 1055.6h6V1057.7h-6zM1568.1 1043.1h6V1055.6h-6zM1592.4 1161.7h6V1198.6h-6zM1598.5 1145.5h6V1161.7h-6zM1604.6 1057.7h6V1145.5h-6zM1610.7 1046.4h6V1057.7h-6zM1616.8 1007.6h6V1046.4h-6zM1628.9 997.0h6V1021.6h-6zM1653.3 1024.7h6V1027.9h-6zM1671.5 1086.2h6V1091.3h-6zM1677.6 1082.1h6V1086.2h-6zM1689.8 1090.7h6V1093.4h-6zM1695.9 1087.8h6V1090.7h-6zM1702.0 1067.1h6V1087.8h-6zM1708.0 1040.4h6V1067.1h-6zM1720.2 1061.6h6V1077.6h-6zM1732.4 1014.2h6V1065.5h-6zM1744.5 1012.6h6V1014.7h-6zM1775.0 1018.2h6V1079.7h-6zM1793.2 1070.5h6V1077.6h-6zM1799.3 1067.2h6V1070.5h-6zM1811.5 1070.8h6V1073.7h-6zM1817.6 1069.4h6V1071.4h-6zM1835.8 1082.1h6V1118.5h-6zM1860.2 1123.4h6V1168.7h-6zM1878.4 1141.2h6V1145.5h-6zM1890.6 1150.9h6V1163.5h-6zM1896.7 1112.4h6V1150.9h-6zM1908.8 1125.0h6V1181.3h-6zM1914.9 1123.3h6V1125.3h-6zM1921.0 1120.1h6V1123.7h-6zM1927.1 1116.6h6V1120.1h-6zM1939.3 1116.1h6V1118.5h-6zM1957.5 1107.5h6V1121.4h-6zM1963.6 1096.7h6V1107.5h-6zM1969.7 1083.4h6V1096.7h-6zM1994.0 1134.5h6V1136.5h-6zM2006.2 1146.0h6V1149.6h-6zM2012.3 1131.8h6V1146.0h-6zM2018.4 1128.2h6V1131.8h-6zM2024.5 1115.3h6V1128.2h-6zM2036.6 1113.3h6V1142.0h-6zM2048.8 1138.7h6V1144.4h-6zM2054.9 1134.7h6V1138.7h-6zM2061.0 1132.3h6V1134.7h-6zM2067.1 1125.8h6V1132.3h-6zM2079.2 1127.4h6V1130.6h-6zM2085.3 1125.0h6V1127.4h-6zM2091.4 1088.1h6V1125.0h-6zM2109.7 1136.8h6V1142.8h-6zM2115.7 1099.9h6V1136.8h-6zM2127.9 1111.2h6V1113.7h-6zM2152.2 1123.7h6V1135.2h-6zM2158.3 1104.8h6V1123.7h-6zM2164.4 1103.2h6V1105.2h-6zM2170.5 1091.5h6V1103.6h-6zM2176.6 1077.6h6V1091.5h-6zM2188.8 1079.2h6V1087.8h-6zM2194.8 1063.2h6V1079.2h-6zM2200.9 1042.2h6V1063.2h-6zM2213.1 1042.5h6V1047.8h-6zM2219.2 1020.3h6V1042.5h-6zM2225.3 985.9h6V1020.3h-6zM2243.5 993.2h6V1003.7h-6zM2249.6 991.3h6V993.3h-6zM2267.9 1046.4h6V1048.4h-6zM2280.0 1060.3h6V1068.0h-6zM2286.1 1053.0h6V1060.3h-6zM2298.3 1051.4h6V1062.4h-6zM2310.5 1062.9h6V1064.9h-6zM2328.7 1064.3h6V1067.6h-6zM2334.8 1060.3h6V1064.3h-6zM2340.9 1056.7h6V1060.3h-6zM2347.0 1047.3h6V1056.7h-6zM2353.0 1040.4h6V1047.3h-6zM2365.2 1034.4h6V1049.4h-6zM2371.3 998.5h6V1034.4h-6zM2377.4 953.6h6V998.5h-6zM2389.6 921.2h6V958.4h-6zM2395.6 918.0h6V921.2h-6zM2407.8 922.9h6V925.3h-6zM2420.0 946.3h6V948.3h-6zM2432.2 950.4h6V973.3h-6zM2444.3 949.6h6V960.9h-6zM2462.6 959.3h6V962.5h-6zM2480.8 1007.8h6V1012.6h-6zM2511.3 1097.4h6V1115.5h-6zM2517.3 1072.3h6V1097.4h-6zM2529.5 1083.3h6V1091.8h-6zM2541.7 1089.3h6V1101.5h-6zM2547.8 1088.2h6V1090.2h-6zM2553.9 1084.5h6V1089.0h-6zM2566.0 1086.7h6V1088.7h-6zM2602.5 1124.1h6V1155.6h-6zM2614.7 1116.5h6V1132.7h-6zM2633.0 1097.4h6V1124.6h-6zM2645.1 1091.4h6V1098.6h-6zM2681.6 1244.0h6V1246.0h-6zM2687.7 1211.5h6V1244.6h-6zM2736.4 1332.7h6V1384.4h-6zM2748.6 1334.6h6V1336.7h-6zM2766.8 1387.2h6V1405.3h-6zM2803.3 1654.6h6V1699.4h-6zM2809.4 1565.4h6V1654.6h-6zM2815.5 1522.5h6V1565.4h-6zM2827.7 1555.6h6V1579.4h-6zM2833.8 1552.4h6V1555.6h-6zM2839.8 1542.4h6V1552.4h-6zM2845.9 1508.3h6V1542.4h-6zM2858.1 1525.7h6V1528.2h-6zM2870.3 1532.5h6V1545.1h-6zM2882.4 1551.6h6V1560.5h-6zM2906.8 1603.0h6V1615.2h-6zM2912.9 1599.3h6V1603.0h-6zM2937.2 1565.4h6V1623.3h-6zM2943.3 1562.1h6V1565.4h-6zM2949.4 1553.2h6V1562.1h-6zM2955.5 1540.3h6V1553.2h-6zM2961.5 1537.9h6V1540.3h-6zM2967.6 1516.3h6V1537.9h-6zM2998.1 1560.5h6V1591.6h-6zM3016.3 1592.9h6V1595.6h-6zM3022.4 1578.3h6V1592.9h-6zM3040.7 1599.3h6V1616.8h-6zM3052.8 1604.5h6V1617.4h-6zM3058.9 1584.4h6V1604.5h-6zM3071.1 1581.0h6V1590.4h-6zM3083.2 1566.6h6V1584.3h-6zM3095.4 1579.1h6V1581.5h-6zM3138.0 1672.1h6V1691.7h-6zM3144.1 1670.3h6V1672.3h-6zM3150.2 1648.2h6V1670.5h-6zM3156.3 1593.6h6V1648.2h-6zM3162.4 1580.5h6V1593.6h-6zM3180.6 1592.6h6V1594.6h-6zM3186.7 1587.6h6V1592.6h-6zM3211.0 1652.3h6V1676.5h-6zM3217.1 1604.8h6V1652.3h-6zM3223.2 1600.7h6V1604.8h-6zM3241.5 1626.0h6V1631.0h-6zM3247.5 1554.6h6V1626.0h-6zM3271.9 1572.4h6V1586.0h-6zM3278.0 1546.1h6V1572.4h-6zM3284.1 1456.2h6V1546.1h-6z" fill="#089981"/>
<path d="M30.1 602.7h3V611.8h-3zM36.2 589.7h3V599.7h-3zM48.3 590.5h3V591.6h-3zM54.4 559.8h3V587.5h-3zM66.6 550.9h3V569.7h-3zM78.8 583.2h3V597.2h-3zM84.8 561.4h3V580.2h-3zM90.9 531.8h3V558.4h-3zM97.0 528.3h3V528.8h-3zM115.3 492.7h3V520.4h-3zM133.5 480.9h3V497.8h-3zM151.8 483.8h3V484.5h-3zM176.1 485.7h3V494.8h-3zM188.3 497.5h3V506.3h-3zM194.4 485.7h3V494.5h-3zM206.5 463.6h3V480.3h-3zM212.6 454.7h3V460.6h-3zM224.8 472.0h3V482.1h-3zM230.9 457.9h3V469.0h-3zM237.0 445.8h3V454.9h-3zM267.4 482.2h3V487.2h-3zM285.6 484.9h3V485.6h-3zM310.0 554.1h3V557.9h-3zM322.2 548.0h3V555.2h-3zM340.4 559.8h3V570.9h-3zM346.5 543.6h3V556.8h-3zM376.9 634.2h3V638.8h-3zM389.1 626.9h3V638.5h-3zM407.3 629.1h3V629.4h-3zM419.5 619.1h3V627.7h-3zM425.6 570.1h3V616.1h-3zM437.8 530.8h3V574.0h-3zM443.9 519.9h3V527.8h-3zM462.1 526.9h3V545.6h-3zM468.2 515.9h3V523.9h-3zM474.3 448.0h3V512.9h-3zM480.4 421.5h3V445.0h-3zM492.5 390.7h3V420.5h-3zM498.6 376.7h3V387.7h-3zM510.8 336.3h3V394.9h-3zM535.1 334.8h3V346.1h-3zM541.2 282.5h3V331.8h-3zM553.4 310.7h3V323.2h-3zM565.6 274.8h3V309.9h-3zM596.0 354.1h3V356.0h-3zM602.1 340.2h3V351.1h-3zM608.2 314.6h3V337.2h-3zM626.4 351.6h3V360.7h-3zM656.8 577.0h3V605.1h-3zM669.0 583.0h3V599.9h-3zM675.1 546.3h3V580.0h-3zM681.2 503.8h3V543.3h-3zM687.3 494.9h3V500.8h-3zM699.4 500.1h3V516.1h-3zM711.6 552.6h3V576.3h-3zM766.4 693.3h3V718.6h-3zM778.5 694.9h3V697.9h-3zM784.6 689.3h3V691.9h-3zM790.7 683.9h3V686.3h-3zM802.9 653.7h3V690.3h-3zM815.0 591.4h3V647.8h-3zM839.4 540.5h3V661.2h-3zM869.8 636.7h3V673.3h-3zM875.9 621.7h3V633.7h-3zM882.0 617.8h3V618.7h-3zM888.1 594.7h3V614.8h-3zM900.2 595.5h3V615.9h-3zM906.3 585.0h3V592.5h-3zM918.5 581.7h3V583.6h-3zM930.7 536.1h3V576.6h-3zM936.7 515.9h3V533.1h-3zM942.8 492.5h3V512.9h-3zM967.2 513.8h3V522.3h-3zM979.3 538.1h3V551.2h-3zM997.6 588.7h3V617.1h-3zM1009.8 658.5h3V670.1h-3zM1015.8 633.8h3V655.5h-3zM1021.9 616.8h3V630.8h-3zM1034.1 620.1h3V628.4h-3zM1040.2 614.1h3V617.1h-3zM1052.4 599.5h3V615.9h-3zM1064.5 608.1h3V614.8h-3zM1082.8 699.0h3V715.4h-3zM1107.1 803.9h3V813.3h-3zM1113.2 763.8h3V800.9h-3zM1143.6 803.9h3V817.4h-3zM1155.8 773.8h3V830.3h-3zM1174.1 796.9h3V808.0h-3zM1186.2 763.8h3V802.0h-3zM1192.3 741.9h3V760.8h-3zM1198.4 691.8h3V738.9h-3zM1210.6 711.5h3V730.8h-3zM1234.9 776.7h3V777.3h-3zM1253.2 769.9h3V809.3h-3zM1289.7 935.1h3V972.1h-3zM1307.9 940.0h3V947.8h-3zM1326.2 950.8h3V978.9h-3zM1350.5 1013.6h3V1065.9h-3zM1374.9 1044.6h3V1078.0h-3zM1381.0 1026.9h3V1041.6h-3zM1411.4 1190.7h3V1239.1h-3zM1429.6 1200.4h3V1207.1h-3zM1435.7 1176.1h3V1197.4h-3zM1441.8 1145.7h3V1173.1h-3zM1454.0 1147.0h3V1148.1h-3zM1466.1 1117.9h3V1154.0h-3zM1484.4 1140.1h3V1145.1h-3zM1490.5 1126.0h3V1137.1h-3zM1502.7 1067.8h3V1144.8h-3zM1508.7 1045.9h3V1064.8h-3zM1520.9 1047.9h3V1054.1h-3zM1533.1 1023.1h3V1054.6h-3zM1551.3 1053.1h3V1061.9h-3zM1569.6 1044.6h3V1054.1h-3zM1593.9 1163.2h3V1197.1h-3zM1600.0 1147.0h3V1160.2h-3zM1606.1 1059.2h3V1144.0h-3zM1612.2 1047.9h3V1056.2h-3zM1618.3 1009.1h3V1044.9h-3zM1630.4 998.5h3V1020.1h-3zM1654.8 1026.2h3V1026.4h-3zM1673.0 1087.7h3V1089.8h-3zM1679.1 1083.6h3V1084.7h-3zM1703.5 1068.6h3V1086.3h-3zM1709.5 1041.9h3V1065.6h-3zM1721.7 1063.1h3V1076.1h-3zM1733.9 1015.7h3V1064.0h-3zM1776.5 1019.7h3V1078.2h-3zM1794.7 1072.0h3V1076.1h-3zM1800.8 1068.7h3V1069.0h-3zM1837.3 1083.6h3V1117.0h-3zM1861.7 1124.9h3V1167.2h-3zM1879.9 1142.7h3V1144.0h-3zM1892.1 1152.4h3V1162.0h-3zM1898.2 1113.9h3V1149.4h-3zM1910.3 1126.5h3V1179.8h-3zM1922.5 1121.6h3V1122.2h-3zM1928.6 1118.1h3V1118.6h-3zM1959.0 1109.0h3V1119.9h-3zM1965.1 1098.2h3V1106.0h-3zM1971.2 1084.9h3V1095.2h-3zM2007.7 1147.5h3V1148.1h-3zM2013.8 1133.3h3V1144.5h-3zM2019.9 1129.7h3V1130.3h-3zM2026.0 1116.8h3V1126.7h-3zM2038.1 1114.8h3V1140.5h-3zM2050.3 1140.2h3V1142.9h-3zM2056.4 1136.2h3V1137.2h-3zM2068.6 1127.3h3V1130.8h-3zM2080.7 1128.9h3V1129.1h-3zM2092.9 1089.6h3V1123.5h-3zM2111.2 1138.3h3V1141.3h-3zM2117.2 1101.4h3V1135.3h-3zM2153.7 1125.2h3V1133.7h-3zM2159.8 1106.3h3V1122.2h-3zM2172.0 1093.0h3V1102.1h-3zM2178.1 1079.1h3V1090.0h-3zM2190.3 1080.7h3V1086.3h-3zM2196.3 1064.7h3V1077.7h-3zM2202.4 1043.7h3V1061.7h-3zM2214.6 1044.0h3V1046.3h-3zM2220.7 1021.8h3V1041.0h-3zM2226.8 987.4h3V1018.8h-3zM2245.0 994.7h3V1002.2h-3zM2281.5 1061.8h3V1066.5h-3zM2287.6 1054.5h3V1058.8h-3zM2299.8 1052.9h3V1060.9h-3zM2330.2 1065.8h3V1066.1h-3zM2336.3 1061.8h3V1062.8h-3zM2342.4 1058.2h3V1058.8h-3zM2348.5 1048.8h3V1055.2h-3zM2354.5 1041.9h3V1045.8h-3zM2366.7 1035.9h3V1047.9h-3zM2372.8 1000.0h3V1032.9h-3zM2378.9 955.1h3V997.0h-3zM2391.1 922.7h3V956.9h-3zM2397.1 919.5h3V919.7h-3zM2433.7 951.9h3V971.8h-3zM2445.8 951.1h3V959.4h-3zM2464.1 960.8h3V961.0h-3zM2482.3 1009.3h3V1011.1h-3zM2512.8 1098.9h3V1114.0h-3zM2518.8 1073.8h3V1095.9h-3zM2531.0 1084.8h3V1090.3h-3zM2543.2 1090.8h3V1100.0h-3zM2555.4 1086.0h3V1087.5h-3zM2604.0 1125.6h3V1154.1h-3zM2616.2 1118.0h3V1131.2h-3zM2634.5 1098.9h3V1123.1h-3zM2646.6 1092.9h3V1097.1h-3zM2689.2 1213.0h3V1243.1h-3zM2737.9 1334.2h3V1382.9h-3zM2768.3 1388.7h3V1403.8h-3zM2804.8 1656.1h3V1697.9h-3zM2810.9 1566.9h3V1653.1h-3zM2817.0 1524.0h3V1563.9h-3zM2829.2 1557.1h3V1577.9h-3zM2835.3 1553.9h3V1554.1h-3zM2841.3 1543.9h3V1550.9h-3zM2847.4 1509.8h3V1540.9h-3zM2871.8 1534.0h3V1543.6h-3zM2883.9 1553.1h3V1559.0h-3zM2908.3 1604.5h3V1613.7h-3zM2914.4 1600.8h3V1601.5h-3zM2938.7 1566.9h3V1621.8h-3zM2944.8 1563.6h3V1563.9h-3zM2950.9 1554.7h3V1560.6h-3zM2957.0 1541.8h3V1551.7h-3zM2969.1 1517.8h3V1536.4h-3zM2999.6 1562.0h3V1590.1h-3zM3023.9 1579.8h3V1591.4h-3zM3042.2 1600.8h3V1615.3h-3zM3054.3 1606.0h3V1615.9h-3zM3060.4 1585.9h3V1603.0h-3zM3072.6 1582.5h3V1588.9h-3zM3084.8 1568.1h3V1582.8h-3zM3139.5 1673.6h3V1690.2h-3zM3151.7 1649.7h3V1669.0h-3zM3157.8 1595.1h3V1646.7h-3zM3163.9 1582.0h3V1592.1h-3zM3188.2 1589.1h3V1591.1h-3zM3212.5 1653.8h3V1675.0h-3zM3218.6 1606.3h3V1650.8h-3zM3224.7 1602.2h3V1603.3h-3zM3243.0 1627.5h3V1629.5h-3zM3249.0 1556.1h3V1624.5h-3zM3273.4 1573.9h3V1584.5h-3zM3279.5 1547.6h3V1570.9h-3zM3285.6 1457.7h3V1544.6h-3z" fill="#1E76D8"/>
<path d="M16.4 599.5h6V609.2h-6zM22.5 609.2h6V613.3h-6zM40.8 588.2h6V593.1h-6zM59.0 558.3h6V571.2h-6zM71.2 549.4h6V598.7h-6zM119.9 491.2h6V501.4h-6zM138.1 479.4h6V485.5h-6zM144.2 484.8h6V486.8h-6zM156.4 482.3h6V484.4h-6zM162.4 484.4h6V498.4h-6zM180.7 484.2h6V507.8h-6zM217.2 453.2h6V483.6h-6zM241.6 444.3h6V455.3h-6zM247.6 455.3h6V459.1h-6zM253.7 459.1h6V482.3h-6zM259.8 482.3h6V488.7h-6zM278.1 479.4h6V487.1h-6zM290.2 483.4h6V490.4h-6zM296.3 490.4h6V497.3h-6zM302.4 497.3h6V559.4h-6zM314.6 552.6h6V556.7h-6zM326.7 546.5h6V551.0h-6zM332.8 551.0h6V572.4h-6zM351.1 541.9h6V543.9h-6zM357.2 543.7h6V577.7h-6zM363.3 577.7h6V580.9h-6zM369.3 580.9h6V640.3h-6zM381.5 632.7h6V640.0h-6zM393.7 625.4h6V631.6h-6zM411.9 627.4h6V629.4h-6zM430.2 568.6h6V575.5h-6zM448.4 518.4h6V532.5h-6zM454.5 532.5h6V547.1h-6zM485.0 420.0h6V422.0h-6zM503.2 375.2h6V396.4h-6zM515.4 334.3h6V336.3h-6zM527.5 334.8h6V347.6h-6zM545.8 281.0h6V324.7h-6zM558.0 309.2h6V311.4h-6zM570.1 273.3h6V281.4h-6zM576.2 281.4h6V303.6h-6zM582.3 303.6h6V346.2h-6zM588.4 346.2h6V357.5h-6zM612.7 313.1h6V345.4h-6zM618.8 345.4h6V362.2h-6zM631.0 350.1h6V367.8h-6zM637.1 367.8h6V411.9h-6zM643.2 411.9h6V550.8h-6zM649.2 550.8h6V606.6h-6zM661.4 575.5h6V601.4h-6zM691.8 493.4h6V517.6h-6zM704.0 498.6h6V577.8h-6zM722.3 548.7h6V558.6h-6zM728.4 558.6h6V598.5h-6zM734.4 597.9h6V599.9h-6zM740.5 599.3h6V605.3h-6zM746.6 605.3h6V651.6h-6zM752.7 651.6h6V660.3h-6zM758.8 660.3h6V720.1h-6zM771.0 691.8h6V699.4h-6zM795.3 682.4h6V691.8h-6zM819.6 589.3h6V591.3h-6zM825.7 590.7h6V606.1h-6zM831.8 606.1h6V662.7h-6zM844.0 539.0h6V656.7h-6zM862.2 653.5h6V674.8h-6zM892.6 593.2h6V617.4h-6zM910.9 583.3h6V585.3h-6zM947.4 491.0h6V505.5h-6zM953.5 505.5h6V525.7h-6zM971.8 512.3h6V552.7h-6zM983.9 536.6h6V584.8h-6zM990.0 584.8h6V618.6h-6zM1002.2 587.2h6V671.6h-6zM1026.5 615.3h6V629.9h-6zM1044.8 612.6h6V617.4h-6zM1056.9 598.0h6V616.3h-6zM1069.1 606.6h6V677.8h-6zM1075.2 677.8h6V716.9h-6zM1087.4 697.5h6V746.3h-6zM1093.5 746.3h6V775.9h-6zM1099.5 775.9h6V814.8h-6zM1123.9 759.8h6V775.5h-6zM1130.0 775.5h6V802.7h-6zM1136.0 802.7h6V818.9h-6zM1148.2 802.4h6V831.8h-6zM1160.4 772.3h6V795.8h-6zM1166.5 795.8h6V809.5h-6zM1178.6 795.4h6V803.5h-6zM1203.0 690.3h6V732.3h-6zM1215.2 710.0h6V738.3h-6zM1221.2 738.3h6V768.7h-6zM1227.3 768.7h6V778.8h-6zM1239.5 775.2h6V798.7h-6zM1245.6 798.7h6V810.8h-6zM1257.8 768.4h6V816.5h-6zM1263.8 816.5h6V856.6h-6zM1269.9 856.6h6V914.6h-6zM1276.0 914.6h6V922.6h-6zM1282.1 922.6h6V973.6h-6zM1294.3 933.0h6V935.0h-6zM1300.3 934.3h6V949.3h-6zM1312.5 938.5h6V973.6h-6zM1318.6 973.6h6V980.4h-6zM1330.8 949.3h6V988.6h-6zM1336.9 988.6h6V1028.6h-6zM1342.9 1028.6h6V1067.4h-6zM1361.2 1010.0h6V1035.5h-6zM1367.3 1035.5h6V1079.5h-6zM1385.5 1025.4h6V1082.0h-6zM1391.6 1082.0h6V1156.8h-6zM1397.7 1156.8h6V1216.7h-6zM1403.8 1216.7h6V1240.6h-6zM1416.0 1189.2h6V1202.4h-6zM1422.0 1202.4h6V1208.6h-6zM1446.4 1144.2h6V1149.6h-6zM1458.6 1145.5h6V1155.5h-6zM1470.7 1116.4h6V1137.1h-6zM1476.8 1137.1h6V1146.6h-6zM1495.1 1124.5h6V1146.3h-6zM1513.3 1044.4h6V1055.6h-6zM1525.5 1046.4h6V1056.1h-6zM1537.7 1021.6h6V1056.6h-6zM1543.7 1056.6h6V1063.4h-6zM1555.9 1051.6h6V1057.7h-6zM1574.2 1043.1h6V1068.2h-6zM1580.3 1068.2h6V1156.5h-6zM1586.3 1156.5h6V1198.6h-6zM1622.9 1007.6h6V1021.6h-6zM1635.0 997.0h6V999.6h-6zM1641.1 999.6h6V1008.2h-6zM1647.2 1008.2h6V1027.9h-6zM1659.4 1024.7h6V1065.6h-6zM1665.4 1065.6h6V1091.3h-6zM1683.7 1082.1h6V1093.4h-6zM1714.1 1040.4h6V1077.6h-6zM1726.3 1061.6h6V1065.5h-6zM1738.5 1013.4h6V1015.4h-6zM1750.6 1012.6h6V1029.6h-6zM1756.7 1028.7h6V1030.7h-6zM1762.8 1029.9h6V1070.5h-6zM1768.9 1070.5h6V1079.7h-6zM1781.1 1017.6h6V1019.6h-6zM1787.1 1019.0h6V1077.6h-6zM1805.4 1067.2h6V1073.7h-6zM1823.7 1070.0h6V1098.3h-6zM1829.7 1098.3h6V1118.5h-6zM1841.9 1082.1h6V1144.4h-6zM1848.0 1144.4h6V1158.5h-6zM1854.1 1158.5h6V1168.7h-6zM1866.2 1123.3h6V1125.3h-6zM1872.3 1125.3h6V1145.5h-6zM1884.5 1141.2h6V1163.5h-6zM1902.8 1112.4h6V1181.3h-6zM1933.2 1116.5h6V1118.5h-6zM1945.4 1116.1h6V1118.8h-6zM1951.4 1118.8h6V1121.4h-6zM1975.8 1083.4h6V1109.6h-6zM1981.9 1109.6h6V1133.9h-6zM1988.0 1133.9h6V1136.3h-6zM2000.1 1134.7h6V1149.6h-6zM2030.5 1115.3h6V1142.0h-6zM2042.7 1113.3h6V1144.4h-6zM2073.1 1125.8h6V1130.6h-6zM2097.5 1088.1h6V1132.3h-6zM2103.6 1132.3h6V1142.8h-6zM2121.8 1099.9h6V1113.7h-6zM2134.0 1111.2h6V1126.6h-6zM2140.1 1126.6h6V1134.7h-6zM2146.2 1133.9h6V1135.9h-6zM2182.7 1077.6h6V1087.8h-6zM2207.0 1042.2h6V1047.8h-6zM2231.3 985.2h6V987.2h-6zM2237.4 986.5h6V1003.7h-6zM2255.7 991.5h6V1012.1h-6zM2261.8 1012.1h6V1047.8h-6zM2273.9 1047.0h6V1068.0h-6zM2292.2 1053.0h6V1062.4h-6zM2304.4 1051.4h6V1064.3h-6zM2316.5 1062.8h6V1064.8h-6zM2322.6 1064.0h6V1067.6h-6zM2359.1 1040.4h6V1049.4h-6zM2383.5 953.6h6V958.4h-6zM2401.7 918.0h6V925.3h-6zM2413.9 922.9h6V948.3h-6zM2426.1 946.3h6V973.3h-6zM2438.2 950.4h6V960.9h-6zM2450.4 949.6h6V959.3h-6zM2456.5 959.3h6V962.5h-6zM2468.7 959.3h6V994.0h-6zM2474.8 994.0h6V1012.6h-6zM2486.9 1007.8h6V1018.3h-6zM2493.0 1018.3h6V1052.7h-6zM2499.1 1052.7h6V1063.6h-6zM2505.2 1063.6h6V1115.5h-6zM2523.4 1072.3h6V1091.8h-6zM2535.6 1083.3h6V1101.5h-6zM2559.9 1084.5h6V1088.5h-6zM2572.1 1086.9h6V1096.6h-6zM2578.2 1095.8h6V1097.8h-6zM2584.3 1096.9h6V1110.4h-6zM2590.4 1110.4h6V1115.5h-6zM2596.4 1115.5h6V1155.6h-6zM2608.6 1124.1h6V1132.7h-6zM2620.8 1115.7h6V1117.7h-6zM2626.9 1116.8h6V1124.6h-6zM2639.0 1097.0h6V1099.0h-6zM2651.2 1091.4h6V1095.3h-6zM2657.3 1095.3h6V1117.3h-6zM2663.4 1117.3h6V1196.4h-6zM2669.5 1196.4h6V1202.2h-6zM2675.6 1202.2h6V1245.4h-6zM2693.8 1211.5h6V1228.4h-6zM2699.9 1228.4h6V1278.6h-6zM2706.0 1278.6h6V1336.7h-6zM2712.1 1336.7h6V1345.9h-6zM2718.1 1345.9h6V1362.4h-6zM2724.2 1362.4h6V1376.7h-6zM2730.3 1376.7h6V1384.4h-6zM2742.5 1332.7h6V1336.7h-6zM2754.7 1334.6h6V1350.5h-6zM2760.7 1350.5h6V1405.3h-6zM2772.9 1387.2h6V1442.2h-6zM2779.0 1442.2h6V1466.7h-6zM2785.1 1466.7h6V1521.4h-6zM2791.2 1521.4h6V1594.5h-6zM2797.3 1594.5h6V1699.4h-6zM2821.6 1522.5h6V1579.4h-6zM2852.0 1508.3h6V1528.2h-6zM2864.2 1525.7h6V1545.1h-6zM2876.4 1532.5h6V1560.5h-6zM2888.5 1551.6h6V1562.1h-6zM2894.6 1562.1h6V1603.4h-6zM2900.7 1603.4h6V1615.2h-6zM2919.0 1598.7h6V1600.7h-6zM2925.0 1600.1h6V1621.2h-6zM2931.1 1621.2h6V1623.3h-6zM2973.7 1516.3h6V1556.5h-6zM2979.8 1556.5h6V1562.6h-6zM2985.9 1562.6h6V1567.0h-6zM2992.0 1567.0h6V1591.6h-6zM3004.1 1560.5h6V1572.3h-6zM3010.2 1572.3h6V1595.6h-6zM3028.5 1578.3h6V1588.3h-6zM3034.6 1588.3h6V1616.8h-6zM3046.7 1599.3h6V1617.4h-6zM3065.0 1584.4h6V1590.4h-6zM3077.2 1581.0h6V1584.3h-6zM3089.3 1566.6h6V1581.5h-6zM3101.5 1579.1h6V1588.5h-6zM3107.6 1587.6h6V1589.6h-6zM3113.7 1588.8h6V1627.6h-6zM3119.8 1627.6h6V1635.2h-6zM3125.8 1635.2h6V1657.5h-6zM3131.9 1657.5h6V1691.7h-6zM3168.4 1580.5h6V1584.5h-6zM3174.5 1584.5h6V1594.6h-6zM3192.8 1587.6h6V1624.0h-6zM3198.9 1624.0h6V1628.0h-6zM3204.9 1628.0h6V1676.5h-6zM3229.3 1600.7h6V1605.8h-6zM3235.4 1605.8h6V1631.0h-6zM3253.6 1554.6h6V1560.9h-6zM3259.7 1560.9h6V1576.5h-6zM3265.8 1576.5h6V1586.0h-6zM3290.1 1456.2h6V1473.4h-6zM3296.2 1473.4h6V1486.5h-6zM3302.3 1486.1h6V1488.1h-6z" fill="#F23645"/>
<polyline points="19.4,547.0 20.0,547.0 86.3,547.0" fill="none" stroke="#F23645" stroke-width="1.7" stroke-linejoin="round"/>
<polyline points="305.4,453.2 306.0,453.2 311.1,466.9 317.6,476.9 329.7,478.6 341.9,485.5 359.7,485.5 366.1,491.2 372.6,510.6 378.3,530.8 383.9,534.8 396.1,534.8 402.5,547.0 404.9,548.4 408.2,550.2 409.7,551.6 414.7,551.3 433.2,551.6" fill="none" stroke="#F23645" stroke-width="1.7" stroke-linejoin="round"/>
<polyline points="640.1,240.1 642.6,272.1 646.0,314.2 649.3,339.5 652.7,359.7 657.7,373.2 664.5,386.7 669.5,390.9 700.0,390.9 705.5,390.6 711.0,394.4 732.0,394.4 737.8,423.0 743.5,425.4 750.2,440.0 755.8,483.7 762.3,499.0 765.9,530.6 768.5,543.5 791.4,543.5 797.8,550.8 800.0,551.6 834.2,550.8 834.8,550.8" fill="none" stroke="#F23645" stroke-width="1.7" stroke-linejoin="round"/>
<polyline points="1005.2,470.7 1009.7,516.0 1072.8,516.0 1077.6,548.4 1085.7,558.1 1089.7,567.8 1093.0,585.6 1097.8,617.9 1101.9,655.1 1107.5,660.8 1131.0,660.8 1143.9,662.4 1150.4,677.0 1180.0,677.0 1262.0,677.0 1266.8,700.0 1271.7,722.6 1274.1,740.4 1277.7,763.9 1290.3,770.8 1295.9,771.5 1303.2,787.3 1309.7,797.0 1316.2,797.9 1321.8,820.5 1335.6,829.4 1340.4,850.4 1346.1,892.2 1370.3,892.2 1375.9,905.7 1376.0,905.4 1388.5,905.7 1388.9,905.4 1393.7,940.4 1393.8,940.0 1397.7,980.9 1400.9,1005.1 1405.8,1020.5 1582.1,1020.5 1587.8,1046.4 1607.6,1047.2" fill="none" stroke="#F23645" stroke-width="1.7" stroke-linejoin="round"/>
<polyline points="1844.9,1003.7 1850.5,1037.6 1855.7,1046.0 2020.0,1046.0 2069.6,1046.0 2076.0,1048.2 2082.5,1052.2 2087.3,1057.4 2197.8,1057.4" fill="none" stroke="#F23645" stroke-width="1.7" stroke-linejoin="round"/>
<polyline points="2496.0,948.7 2499.3,962.5 2503.4,975.4 2508.2,989.2 2513.9,992.1 2568.1,992.1 2574.5,996.5 2581.0,1009.4 2592.3,1031.2 2598.0,1051.1 2666.7,1051.1 2671.6,1080.6 2678.1,1108.5 2695.8,1109.4 2702.4,1122.5 2706.4,1153.2 2708.4,1165.4 2717.8,1184.0 2725.9,1210.6 2732.0,1218.2 2758.2,1218.2 2763.9,1230.9 2770.3,1231.3 2776.0,1245.4 2776.7,1248.1 2780.8,1280.0 2782.3,1295.0 2788.8,1320.9 2793.7,1353.2 2797.7,1390.4 2800.1,1417.9 2805.8,1441.1 2922.2,1441.1 2927.9,1464.8 2933.6,1471.0 3003.9,1471.0 3012.0,1472.1 3023.3,1477.0 3029.1,1476.8 3029.8,1477.4 3035.2,1491.5 3042.2,1495.6 3050.3,1505.1 3103.9,1505.1 3110.0,1513.8 3116.0,1532.4 3122.1,1533.4 3128.2,1555.2 3133.2,1569.4 3140.3,1585.1 3158.5,1585.1 3159.3,1585.1" fill="none" stroke="#F23645" stroke-width="1.7" stroke-linejoin="round"/>
<polyline points="92.4,649.7 104.1,621.1 109.0,621.1 121.9,583.0 127.6,583.0 139.7,570.4 147.8,566.7 153.4,566.7 159.9,562.8 202.0,562.8 207.6,557.5 214.1,546.2 231.9,546.2 238.4,540.5 299.3,540.5" fill="none" stroke="#4CAF50" stroke-width="1.7" stroke-linejoin="round"/>
<polyline points="439.3,636.0 440.0,636.0 446.1,613.9 451.8,607.4 463.1,607.4 469.9,604.5 475.2,584.0 488.2,514.7 493.0,509.6 500.0,486.6 505.9,484.0 511.6,479.3 518.9,442.7 536.7,442.7 542.4,415.3 560.0,415.3 566.8,405.2 572.2,382.8 634.0,382.8" fill="none" stroke="#4CAF50" stroke-width="1.7" stroke-linejoin="round"/>
<polyline points="840.9,733.1 908.2,733.1 913.9,716.9 925.2,700.7 927.6,694.2 944.1,624.7 963.2,624.7 966.4,623.6 997.2,623.6 999.1,623.6" fill="none" stroke="#4CAF50" stroke-width="1.7" stroke-linejoin="round"/>
<polyline points="1613.7,1201.3 1619.8,1177.0 1632.0,1165.7 1632.1,1165.4 1637.8,1149.6 1637.9,1149.9 1733.9,1149.9 1734.0,1149.6 1740.0,1140.7 1741.3,1138.2 1838.4,1138.2" fill="none" stroke="#4CAF50" stroke-width="1.7" stroke-linejoin="round"/>
<polyline points="2203.9,1129.5 2210.3,1122.2 2215.9,1121.7 2220.0,1108.8 2234.0,1069.2 2379.6,1069.2 2380.1,1069.2 2386.1,1057.9 2386.6,1057.0 2391.8,1045.8 2392.2,1044.1 2397.1,1022.3 2397.4,1022.3 2400.0,1021.1 2489.6,1022.3" fill="none" stroke="#4CAF50" stroke-width="1.7" stroke-linejoin="round"/>
<polyline points="3165.4,1683.2 3279.8,1683.2 3284.8,1662.4 3288.9,1634.1 3292.9,1611.8 3305.0,1611.4" fill="none" stroke="#4CAF50" stroke-width="1.7" stroke-linejoin="round"/>
<polyline points="13.3,580.0 19.4,580.9 25.5,582.2 31.6,582.9 37.7,583.1 43.8,583.4 49.8,583.6 55.9,582.6 62.0,582.1 68.1,580.8 74.2,581.5 80.3,581.5 86.3,580.6 92.4,578.6 98.5,576.5 104.6,574.5 110.7,572.4 116.8,569.2 122.9,566.5 128.9,563.8 135.0,560.5 141.1,557.5 147.2,554.7 153.3,551.8 159.4,549.2 165.4,547.1 171.5,545.1 177.6,542.7 183.7,541.3 189.8,539.5 195.9,537.3 202.0,535.1 208.0,532.2 214.1,529.1 220.2,527.3 226.3,525.0 232.4,522.3 238.5,519.2 244.6,516.7 250.6,514.4 256.7,513.1 262.8,512.1 268.9,510.9 275.0,509.6 281.1,508.7 287.1,507.7 293.2,507.0 299.3,506.6 305.4,508.6 311.5,510.3 317.6,512.1 323.7,513.4 329.7,514.9 335.8,517.1 341.9,518.7 348.0,519.6 354.1,520.5 360.2,522.7 366.3,525.0 372.3,529.5 378.4,533.5 384.5,537.6 390.6,541.0 396.7,544.6 402.8,547.9 408.8,551.0 414.9,554.1 421.0,556.5 427.1,557.0 433.2,557.7 439.3,556.5 445.4,555.0 451.4,554.1 457.5,553.8 463.6,552.7 469.7,551.1 475.8,547.0 481.9,542.0 488.0,537.3 494.0,531.4 500.1,525.3 506.2,520.2 512.3,512.9 518.4,505.9 524.5,499.2 530.5,493.2 536.6,486.9 542.7,478.8 548.8,472.7 554.9,466.3 561.0,460.2 567.1,452.8 573.1,446.1 579.2,440.5 585.3,436.7 591.4,433.6 597.5,430.4 603.6,426.8 609.7,422.3 615.7,419.3 621.8,417.0 627.9,414.3 634.0,412.5 640.1,412.4 646.2,417.8 652.2,425.2 658.3,431.1 664.4,437.7 670.5,443.3 676.6,447.3 682.7,449.4 688.8,451.1 694.8,453.7 700.9,455.4 707.0,460.2 713.1,463.7 719.2,467.0 725.3,470.6 731.4,475.6 737.4,480.4 743.5,485.3 749.6,491.8 755.7,498.4 761.8,507.0 767.9,514.3 774.0,521.5 780.0,528.2 786.1,534.4 792.2,540.2 798.3,546.1 804.4,550.3 810.5,554.1 816.5,555.5 822.6,556.8 828.7,558.8 834.8,562.8 840.9,561.8 847.0,565.5 853.1,569.0 859.1,572.3 865.2,576.3 871.3,578.6 877.4,580.2 883.5,581.6 889.6,582.0 895.6,583.4 901.7,583.8 907.8,583.7 913.9,583.8 920.0,583.6 926.1,583.3 932.2,581.4 938.2,578.8 944.3,575.3 950.4,572.5 956.5,570.7 962.6,568.8 968.7,566.5 974.8,566.0 980.8,564.8 986.9,565.6 993.0,567.6 999.1,568.3 1005.2,572.4 1011.3,575.7 1017.3,577.9 1023.4,579.3 1029.5,581.3 1035.6,582.7 1041.7,583.8 1047.8,585.1 1053.9,585.6 1059.9,586.8 1066.0,587.5 1072.1,591.0 1078.2,595.9 1084.3,599.9 1090.4,605.6 1096.5,612.3 1102.5,620.2 1108.6,627.3 1114.7,632.6 1120.8,637.5 1126.9,642.9 1133.0,649.2 1139.0,655.8 1145.1,661.5 1151.2,668.2 1157.3,672.2 1163.4,677.0 1169.5,682.2 1175.6,686.6 1181.6,691.2 1187.7,693.9 1193.8,695.7 1199.9,695.5 1206.0,696.9 1212.1,697.4 1218.2,699.0 1224.2,701.7 1230.3,704.7 1236.4,707.4 1242.5,711.0 1248.6,714.8 1254.7,716.9 1260.8,720.8 1266.8,726.1 1272.9,733.5 1279.0,740.9 1285.1,750.0 1291.2,757.1 1297.3,764.0 1303.3,771.3 1309.4,777.8 1315.5,785.5 1321.6,793.1 1327.7,799.2 1333.8,806.6 1339.9,815.3 1345.9,825.1 1352.0,832.4 1358.1,839.4 1364.2,847.0 1370.3,856.1 1376.4,863.4 1382.5,869.7 1388.5,878.0 1394.6,888.9 1400.7,901.8 1406.8,915.0 1412.9,925.8 1419.0,936.6 1425.0,947.2 1431.1,957.1 1437.2,965.6 1443.3,972.5 1449.4,979.5 1455.5,985.9 1461.6,992.6 1467.6,997.4 1473.7,1002.8 1479.8,1008.5 1485.9,1013.5 1492.0,1017.9 1498.1,1022.9 1504.2,1024.5 1510.2,1025.3 1516.3,1026.5 1522.4,1027.2 1528.5,1028.3 1534.6,1028.0 1540.7,1029.1 1546.7,1030.4 1552.8,1031.2 1558.9,1032.2 1565.0,1033.1 1571.1,1033.5 1577.2,1034.8 1583.3,1039.6 1589.3,1045.8 1595.4,1050.3 1601.5,1054.0 1607.6,1054.1 1613.7,1053.8 1619.8,1052.0 1625.9,1050.7 1631.9,1048.6 1638.0,1046.7 1644.1,1045.1 1650.2,1044.4 1656.3,1043.6 1662.4,1044.5 1668.4,1046.3 1674.5,1047.8 1680.6,1049.1 1686.7,1050.8 1692.8,1052.4 1698.9,1053.7 1705.0,1054.2 1711.0,1053.7 1717.1,1054.6 1723.2,1054.8 1729.3,1055.2 1735.4,1053.6 1741.5,1052.0 1747.5,1050.4 1753.6,1049.6 1759.7,1048.8 1765.8,1049.6 1771.9,1050.8 1778.0,1049.5 1784.1,1048.2 1790.1,1049.4 1796.2,1050.2 1802.3,1050.8 1808.4,1051.7 1814.5,1052.4 1820.6,1053.1 1826.7,1054.8 1832.7,1057.3 1838.8,1058.2 1844.9,1061.6 1851.0,1065.4 1857.1,1069.4 1863.2,1071.5 1869.2,1073.5 1875.3,1076.3 1881.4,1078.9 1887.5,1082.1 1893.6,1084.8 1899.7,1085.9 1905.8,1089.6 1911.8,1090.9 1917.9,1092.2 1924.0,1093.3 1930.1,1094.2 1936.2,1095.1 1942.3,1095.9 1948.4,1096.8 1954.4,1097.7 1960.5,1098.0 1966.6,1098.0 1972.7,1097.4 1978.8,1097.8 1984.9,1099.2 1991.0,1100.6 1997.0,1101.9 2003.1,1103.8 2009.2,1105.4 2015.3,1106.4 2021.4,1107.2 2027.5,1107.5 2033.5,1108.9 2039.6,1109.0 2045.7,1110.4 2051.8,1111.4 2057.9,1112.3 2064.0,1113.1 2070.1,1113.6 2076.1,1114.2 2082.2,1114.7 2088.3,1115.1 2094.4,1114.0 2100.5,1114.7 2106.6,1115.7 2112.7,1116.5 2118.7,1115.9 2124.8,1115.8 2130.9,1115.5 2137.0,1116.0 2143.1,1116.7 2149.2,1117.4 2155.2,1117.6 2161.3,1117.0 2167.4,1116.5 2173.5,1115.5 2179.6,1114.0 2185.7,1112.9 2191.8,1111.6 2197.8,1109.6 2203.9,1107.0 2210.0,1104.6 2216.1,1102.2 2222.2,1098.9 2228.3,1094.5 2234.3,1090.2 2240.4,1086.8 2246.5,1083.1 2252.6,1079.5 2258.7,1076.8 2264.8,1075.6 2270.9,1074.5 2276.9,1074.2 2283.0,1073.6 2289.1,1072.8 2295.2,1072.4 2301.3,1071.5 2307.4,1071.2 2313.5,1070.9 2319.5,1070.6 2325.6,1070.4 2331.7,1070.2 2337.8,1069.7 2343.9,1069.2 2350.0,1068.3 2356.0,1067.2 2362.1,1066.5 2368.2,1065.2 2374.3,1062.5 2380.4,1058.2 2386.5,1054.3 2392.6,1049.1 2398.6,1043.9 2404.7,1039.2 2410.8,1034.6 2416.9,1031.2 2423.0,1027.9 2429.1,1025.7 2435.2,1022.7 2441.2,1020.3 2447.3,1017.5 2453.4,1015.1 2459.5,1013.1 2465.6,1010.9 2471.7,1010.2 2477.8,1010.3 2483.8,1010.2 2489.9,1010.5 2496.0,1012.1 2502.1,1014.1 2508.2,1018.0 2514.3,1021.1 2520.3,1023.1 2526.4,1025.8 2532.5,1028.0 2538.6,1030.8 2544.7,1033.1 2550.8,1035.3 2556.9,1037.2 2562.9,1039.2 2569.0,1041.0 2575.1,1043.2 2581.2,1045.2 2587.3,1047.8 2593.4,1050.4 2599.4,1054.5 2605.5,1057.2 2611.6,1060.1 2617.7,1062.3 2623.8,1064.4 2629.9,1066.8 2636.0,1067.9 2642.0,1069.1 2648.1,1070.0 2654.2,1070.9 2660.3,1072.7 2666.4,1077.5 2672.5,1082.4 2678.6,1088.8 2684.6,1094.9 2690.7,1099.4 2696.8,1104.4 2702.9,1111.2 2709.0,1120.0 2715.1,1128.9 2721.1,1138.0 2727.2,1147.3 2733.3,1156.6 2739.4,1163.5 2745.5,1170.3 2751.6,1176.7 2757.7,1183.5 2763.7,1192.1 2769.8,1199.8 2775.9,1209.2 2782.0,1219.3 2788.1,1231.1 2794.2,1245.3 2800.3,1263.1 2806.3,1278.5 2812.4,1289.7 2818.5,1298.8 2824.6,1309.8 2830.7,1319.4 2836.8,1328.5 2842.8,1336.8 2848.9,1343.5 2855.0,1350.7 2861.1,1357.6 2867.2,1364.9 2873.3,1371.5 2879.4,1378.8 2885.4,1385.6 2891.5,1392.5 2897.6,1400.7 2903.7,1409.1 2909.8,1416.7 2915.9,1423.8 2922.0,1430.7 2928.0,1438.2 2934.1,1445.4 2940.2,1450.1 2946.3,1454.4 2952.4,1458.3 2958.5,1461.5 2964.5,1464.4 2970.6,1466.4 2976.7,1469.9 2982.8,1473.5 2988.9,1477.2 2995.0,1481.6 3001.1,1484.7 3007.1,1488.1 3013.2,1492.3 3019.3,1496.2 3025.4,1499.4 3031.5,1502.9 3037.6,1507.3 3043.7,1510.9 3049.7,1515.0 3055.8,1518.5 3061.9,1521.1 3068.0,1523.8 3074.1,1526.0 3080.2,1528.2 3086.2,1529.7 3092.3,1531.7 3098.4,1533.6 3104.5,1535.7 3110.6,1537.7 3116.7,1541.2 3122.8,1544.9 3128.8,1549.3 3134.9,1554.8 3141.0,1559.4 3147.1,1563.7 3153.2,1567.0 3159.3,1568.0 3165.4,1568.5 3171.4,1569.1 3177.5,1570.1 3183.6,1570.9 3189.7,1571.6 3195.8,1573.6 3201.9,1575.7 3207.9,1579.6 3214.0,1582.4 3220.1,1583.3 3226.2,1583.9 3232.3,1584.8 3238.4,1586.6 3244.5,1588.1 3250.5,1586.7 3256.6,1585.7 3262.7,1585.3 3268.8,1585.3 3274.9,1584.8 3281.0,1583.2 3287.1,1578.2 3293.1,1574.1 3299.2,1570.6 3305.3,1567.3" fill="none" stroke="#2962FF" stroke-width="1.7" stroke-linejoin="round"/>
</g>

<rect x="20" y="54" width="3534" height="1932" fill="none" stroke="#EEF0F4" stroke-width="2"/>
<text id="p56000" x="3359.6" y="1864.1" text-anchor="start" class="ax" style="letter-spacing:1.174px;">56,000.00</text>
<text id="p60000" x="3359.6" y="1772.5" text-anchor="start" class="ax" style="letter-spacing:1.174px;">60,000.00</text>
<text id="p64000" x="3359.6" y="1680.9" text-anchor="start" class="ax" style="letter-spacing:1.174px;">64,000.00</text>
<text id="p68000" x="3359.6" y="1589.3" text-anchor="start" class="ax" style="letter-spacing:1.174px;">68,000.00</text>
<text id="p72000" x="3359.6" y="1497.6" text-anchor="start" class="ax" style="letter-spacing:1.174px;">72,000.00</text>
<text id="p76000" x="3359.6" y="1406.0" text-anchor="start" class="ax" style="letter-spacing:1.174px;">76,000.00</text>
<text id="p80000" x="3359.6" y="1314.4" text-anchor="start" class="ax" style="letter-spacing:1.174px;">80,000.00</text>
<text id="p84000" x="3359.6" y="1222.8" text-anchor="start" class="ax" style="letter-spacing:1.174px;">84,000.00</text>
<text id="p88000" x="3359.6" y="1131.2" text-anchor="start" class="ax" style="letter-spacing:1.174px;">88,000.00</text>
<text id="p92000" x="3359.6" y="1039.5" text-anchor="start" class="ax" style="letter-spacing:1.174px;">92,000.00</text>
<text id="p96000" x="3359.6" y="947.9" text-anchor="start" class="ax" style="letter-spacing:1.174px;">96,000.00</text>
<text id="p100000" x="3360.8" y="856.3" text-anchor="start" class="ax" style="letter-spacing:1.075px;">100,000.00</text>
<text id="p104000" x="3360.8" y="764.7" text-anchor="start" class="ax" style="letter-spacing:1.075px;">104,000.00</text>
<text id="p108000" x="3360.8" y="673.1" text-anchor="start" class="ax" style="letter-spacing:1.075px;">108,000.00</text>
<text id="p112000" x="3360.8" y="581.4" text-anchor="start" class="ax" style="letter-spacing:1.342px;">112,000.00</text>
<text id="p116000" x="3360.8" y="489.8" text-anchor="start" class="ax" style="letter-spacing:1.342px;">116,000.00</text>
<text id="p120000" x="3360.8" y="398.2" text-anchor="start" class="ax" style="letter-spacing:1.075px;">120,000.00</text>
<text id="p124000" x="3360.8" y="306.6" text-anchor="start" class="ax" style="letter-spacing:1.075px;">124,000.00</text>
<text id="p128000" x="3360.8" y="215.0" text-anchor="start" class="ax" style="letter-spacing:1.075px;">128,000.00</text>
<text id="p132000" x="3360.8" y="123.3" text-anchor="start" class="ax" style="letter-spacing:1.075px;">132,000.00</text>
<rect x="3340" y="56" width="212" height="64.8" fill="#fff"/>
<rect x="3346.5" y="62" width="199" height="52" rx="9" fill="#fff" stroke="#EDF0F5" stroke-width="1.5"/>
<path d="M3340 1488.2H3523.5a4.5 4.5 0 0 1 4.5 4.5V1529.3a4.5 4.5 0 0 1 -4.5 4.5H3340z" fill="#F23645"/>
<g transform="translate(23.8,2030.3) scale(1.654)" fill="#111"><path d="M14 18H7V7H0V0h14v18z"/><circle cx="20" cy="3.5" r="3.5"/><path d="M28.2 18H20L27.8 0H36L28.2 18z"/></g>
<text id="hdr" x="20.4" y="39.7" text-anchor="start" class="lg" style="letter-spacing:1.044px;">crispus9 created with TradingView.com, Mar 05, 2026 17:46 UTC+3</text>
<text id="l1" x="37.0" y="93.8" text-anchor="start" class="lg" style="letter-spacing:0.653px;">Bitcoin / U.S. Dollar · 8h · Coinbase</text>
<text id="lO" x="444.8" y="93.8" text-anchor="start" class="lg" style="letter-spacing:0.000px;">O</text>
<text id="vO" x="462.6" y="93.8" text-anchor="start" class="lg" style="letter-spacing:0.867px;fill:#F23645;stroke:#F23645;">72,072.87</text>
<text id="lH" x="587.8" y="93.8" text-anchor="start" class="lg">H</text>
<text id="vH" x="606.8" y="93.8" text-anchor="start" class="lg" style="letter-spacing:0.992px;fill:#F23645;stroke:#F23645;">73,588.24</text>
<text id="lL" x="734.2" y="93.8" text-anchor="start" class="lg">L</text>
<text id="vL" x="747.8" y="93.8" text-anchor="start" class="lg" style="letter-spacing:0.392px;fill:#F23645;stroke:#F23645;">71,755.20</text>
<text id="lC" x="870.0" y="93.8" text-anchor="start" class="lg">C</text>
<text id="vC" x="888.2" y="93.8" text-anchor="start" class="lg" style="letter-spacing:1.067px;fill:#F23645;stroke:#F23645;">72,058.62</text>
<text id="lV" x="1016.0" y="93.8" text-anchor="start" class="lg" style="letter-spacing:1.134px;">Vol</text>
<text id="vV" x="1050.8" y="93.8" text-anchor="start" class="lg" style="letter-spacing:0.290px;fill:#F23645;stroke:#F23645;">2.72</text>
<text id="vK" x="1102.8" y="93.8" text-anchor="start" class="lg" style="letter-spacing:0.000px;fill:#F23645;stroke:#F23645;">K</text>
<text id="l2" x="37.0" y="127.9" text-anchor="start" class="lg" style="letter-spacing:0.844px;">Supertrend (10, 3)</text>
<text id="v2" x="255.2" y="127.9" text-anchor="start" class="lg" style="letter-spacing:1.517px;fill:#4CAF50;stroke:#4CAF50;">66,625.08</text>
<text id="e2" x="386.2" y="126.4" text-anchor="start" class="es">∅</text>
<text id="l3" x="37.0" y="161.7" text-anchor="start" class="lg" style="letter-spacing:0.893px;">EMA (50, close)</text>
<text id="v3" x="228.4" y="161.7" text-anchor="start" class="lg" style="letter-spacing:1.242px;fill:#2962FF;stroke:#2962FF;">68,537.38</text>
<text id="usd" x="3365.0" y="96.0" text-anchor="start" class="usd" style="letter-spacing:-0.195px;">USD</text>
<text id="mOct" x="469.3" y="1960.5" text-anchor="middle" class="ax" style="letter-spacing:1.005px;">Oct</text>
<text id="mNov" x="1034.7" y="1960.5" text-anchor="middle" class="ax" style="letter-spacing:0.295px;">Nov</text>
<text id="mDec" x="1582.9" y="1960.5" text-anchor="middle" class="ax" style="letter-spacing:0.595px;">Dec</text>
<text id="m2026" transform="translate(2149.6,1960.5) scale(1.14,1)" x="0" y="0" text-anchor="middle" class="axb" style="letter-spacing:0.45px">2026</text>
<text id="mFeb" x="2714.0" y="1960.5" text-anchor="middle" class="ax" style="letter-spacing:0.236px;">Feb</text>
<text id="mMar" x="3225.2" y="1960.5" text-anchor="middle" class="ax" style="letter-spacing:0.502px;">Mar</text>
<text id="plab" x="3361.4" y="1520.3" text-anchor="start" class="ax" style="letter-spacing:0.636px;fill:#fff;stroke:#fff;">71,010.91</text>
<text id="tv" x="98.0" y="2060.0" text-anchor="start" class="tv" style="letter-spacing:0.023px;">TradingView</text>
</svg>
</body></html>
